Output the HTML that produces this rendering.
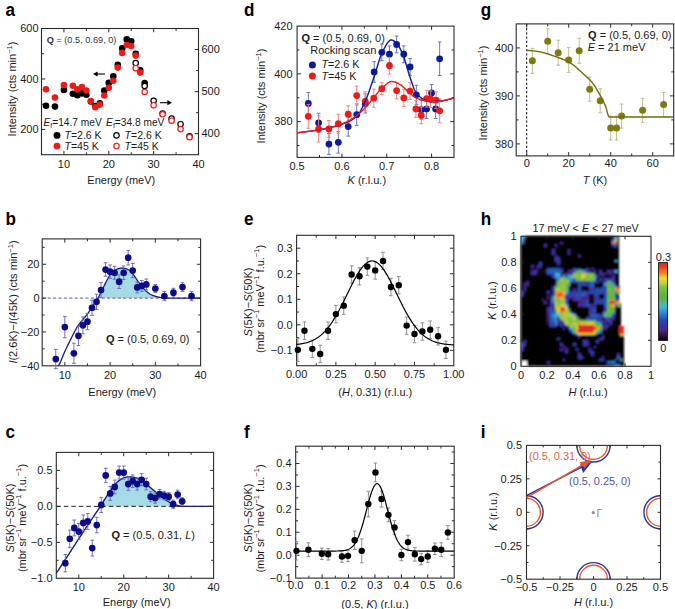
<!DOCTYPE html>
<html><head><meta charset="utf-8"><style>html,body{margin:0;padding:0;background:#fff;}svg{display:block;}text{font-family:"Liberation Sans", sans-serif;}</style></head>
<body><svg width="675" height="609" viewBox="0 0 675 609" font-family='"Liberation Sans", sans-serif'><text x="5.5" y="15.8" font-size="18" text-anchor="start" fill="#000" font-weight="bold" textLength="9.51" lengthAdjust="spacingAndGlyphs">a</text>
<rect x="41.5" y="28.5" width="157" height="126.2" fill="none" stroke="#2a2a2a" stroke-width="1.1"/>
<path d="M63.93 154.7v-3.8M63.93 28.5v3.8M108.79 154.7v-3.8M108.79 28.5v3.8M153.64 154.7v-3.8M153.64 28.5v3.8" stroke="#2a2a2a" stroke-width="1" fill="none"/>
<path d="M41.5 154.7v-2.4M41.5 28.5v2.4M86.36 154.7v-2.4M86.36 28.5v2.4M131.21 154.7v-2.4M131.21 28.5v2.4M176.07 154.7v-2.4M176.07 28.5v2.4" stroke="#2a2a2a" stroke-width="1" fill="none"/>
<path d="M41.5 129.46h3.8M41.5 78.98h3.8" stroke="#2a2a2a" stroke-width="1" fill="none"/>
<path d="M41.5 104.22h2.4M41.5 53.74h2.4" stroke="#2a2a2a" stroke-width="1" fill="none"/>
<path d="M198.5 133.67h-3.8M198.5 91.6h-3.8M198.5 49.53h-3.8" stroke="#2a2a2a" stroke-width="1" fill="none"/>
<path d="M198.5 112.63h-2.4M198.5 70.57h-2.4" stroke="#2a2a2a" stroke-width="1" fill="none"/>
<text x="63.93" y="167.5" font-size="11" text-anchor="middle" fill="#1a1a1a" >10</text>
<text x="108.79" y="167.5" font-size="11" text-anchor="middle" fill="#1a1a1a" >20</text>
<text x="153.64" y="167.5" font-size="11" text-anchor="middle" fill="#1a1a1a" >30</text>
<text x="198.5" y="167.5" font-size="11" text-anchor="middle" fill="#1a1a1a" >40</text>
<text x="38.6" y="133.26" font-size="11" text-anchor="end" fill="#1a1a1a" >200</text>
<text x="38.6" y="82.78" font-size="11" text-anchor="end" fill="#1a1a1a" >400</text>
<text x="38.6" y="32.3" font-size="11" text-anchor="end" fill="#1a1a1a" >600</text>
<text x="201.5" y="137.47" font-size="11" text-anchor="start" fill="#1a1a1a" >400</text>
<text x="201.5" y="95.4" font-size="11" text-anchor="start" fill="#1a1a1a" >500</text>
<text x="201.5" y="53.33" font-size="11" text-anchor="start" fill="#1a1a1a" >600</text>
<text x="121.3" y="184" font-size="11" text-anchor="middle" fill="#1a1a1a" >Energy (meV)</text>
<text x="16" y="89" font-size="11" text-anchor="middle" fill="#1a1a1a" transform="rotate(-90 16 89)" >Intensity (cts min<tspan dy="-4.2" font-size="7.5">−1</tspan><tspan dy="4.2">)</tspan></text>
<circle cx="45.99" cy="105.7" r="3.3" fill="#000"/>
<circle cx="54.96" cy="106.6" r="3.3" fill="#000"/>
<circle cx="63.93" cy="89.9" r="3.3" fill="#000"/>
<circle cx="72.9" cy="93.7" r="3.3" fill="#000"/>
<circle cx="77.39" cy="95.2" r="3.3" fill="#000"/>
<circle cx="81.87" cy="93.4" r="3.3" fill="#000"/>
<circle cx="86.36" cy="94.8" r="3.3" fill="#000"/>
<circle cx="90.84" cy="101.5" r="3.3" fill="#000"/>
<circle cx="95.33" cy="106" r="3.3" fill="#000"/>
<circle cx="99.81" cy="103.2" r="3.3" fill="#000"/>
<circle cx="104.3" cy="90.6" r="3.3" fill="#000"/>
<circle cx="108.79" cy="82.9" r="3.3" fill="#000"/>
<circle cx="113.27" cy="76.4" r="3.3" fill="#000"/>
<circle cx="117.76" cy="64.8" r="3.3" fill="#000"/>
<circle cx="122.24" cy="48.4" r="3.3" fill="#000"/>
<circle cx="126.73" cy="39.4" r="3.3" fill="#000"/>
<circle cx="131.21" cy="41.2" r="3.3" fill="#000"/>
<circle cx="135.7" cy="53.8" r="3.3" fill="#000"/>
<circle cx="140.19" cy="70.4" r="3.3" fill="#000"/>
<circle cx="144.67" cy="83" r="3.3" fill="#000"/>
<circle cx="45.99" cy="89.2" r="3.3" fill="#ee1a1a"/>
<circle cx="54.96" cy="97.6" r="3.3" fill="#ee1a1a"/>
<circle cx="63.93" cy="85" r="3.3" fill="#ee1a1a"/>
<circle cx="72.9" cy="85.7" r="3.3" fill="#ee1a1a"/>
<circle cx="77.39" cy="89.2" r="3.3" fill="#ee1a1a"/>
<circle cx="81.87" cy="87.1" r="3.3" fill="#ee1a1a"/>
<circle cx="86.36" cy="90.6" r="3.3" fill="#ee1a1a"/>
<circle cx="90.84" cy="101" r="3.3" fill="#ee1a1a"/>
<circle cx="95.33" cy="107.3" r="3.3" fill="#ee1a1a"/>
<circle cx="99.81" cy="104.6" r="3.3" fill="#ee1a1a"/>
<circle cx="104.3" cy="95.5" r="3.3" fill="#ee1a1a"/>
<circle cx="108.79" cy="87.8" r="3.3" fill="#ee1a1a"/>
<circle cx="113.27" cy="80.8" r="3.3" fill="#ee1a1a"/>
<circle cx="117.76" cy="67.6" r="3.3" fill="#ee1a1a"/>
<circle cx="122.24" cy="52.9" r="3.3" fill="#ee1a1a"/>
<circle cx="126.73" cy="45" r="3.3" fill="#ee1a1a"/>
<circle cx="131.21" cy="46" r="3.3" fill="#ee1a1a"/>
<circle cx="135.7" cy="55.6" r="3.3" fill="#ee1a1a"/>
<circle cx="140.19" cy="72.6" r="3.3" fill="#ee1a1a"/>
<circle cx="135.7" cy="63.1" r="2.6999999999999997" fill="#fff" stroke="#000" stroke-width="1.2"/>
<circle cx="144.67" cy="86" r="2.6999999999999997" fill="#fff" stroke="#000" stroke-width="1.2"/>
<circle cx="153.64" cy="100.8" r="2.6999999999999997" fill="#fff" stroke="#000" stroke-width="1.2"/>
<circle cx="162.61" cy="113.5" r="2.6999999999999997" fill="#fff" stroke="#000" stroke-width="1.2"/>
<circle cx="171.59" cy="118.5" r="2.6999999999999997" fill="#fff" stroke="#000" stroke-width="1.2"/>
<circle cx="180.56" cy="124.2" r="2.6999999999999997" fill="#fff" stroke="#000" stroke-width="1.2"/>
<circle cx="189.53" cy="136.2" r="2.6999999999999997" fill="#fff" stroke="#000" stroke-width="1.2"/>
<circle cx="135.7" cy="68.2" r="2.6999999999999997" fill="#fff" stroke="#ee1a1a" stroke-width="1.2"/>
<circle cx="144.67" cy="92" r="2.6999999999999997" fill="#fff" stroke="#ee1a1a" stroke-width="1.2"/>
<circle cx="153.64" cy="105.2" r="2.6999999999999997" fill="#fff" stroke="#ee1a1a" stroke-width="1.2"/>
<circle cx="162.61" cy="114.3" r="2.6999999999999997" fill="#fff" stroke="#ee1a1a" stroke-width="1.2"/>
<circle cx="171.59" cy="120.7" r="2.6999999999999997" fill="#fff" stroke="#ee1a1a" stroke-width="1.2"/>
<circle cx="180.56" cy="129.1" r="2.6999999999999997" fill="#fff" stroke="#ee1a1a" stroke-width="1.2"/>
<circle cx="189.53" cy="137.2" r="2.6999999999999997" fill="#fff" stroke="#ee1a1a" stroke-width="1.2"/>
<text x="46.7" y="43" font-size="9.2" text-anchor="start" fill="#333" ><tspan font-weight="bold">Q</tspan> = (0.5, 0.69, 0)</text>
<path d="M105 74H96" stroke="#000" stroke-width="1.1"/><path d="M93 74l4.6 -2.6v5.2z" fill="#000"/>
<path d="M160 102.7H169" stroke="#000" stroke-width="1.1"/><path d="M172 102.7l-4.6 -2.6v5.2z" fill="#000"/>
<text x="43.5" y="125.6" font-size="10.2" text-anchor="start" fill="#1a1a1a" ><tspan font-style="italic">E</tspan><tspan font-size="7" dy="2">f</tspan><tspan dy="-2">=14.7 meV</tspan></text>
<text x="106.1" y="125.6" font-size="10.2" text-anchor="start" fill="#1a1a1a" ><tspan font-style="italic">E</tspan><tspan font-size="7" dy="2">f</tspan><tspan dy="-2">=34.8 meV</tspan></text>
<circle cx="57" cy="135.4" r="3.45" fill="#000"/>
<circle cx="57" cy="146.1" r="3.45" fill="#ee1a1a"/>
<circle cx="116.5" cy="135.4" r="2.6999999999999997" fill="#fff" stroke="#000" stroke-width="1.2"/>
<circle cx="116.5" cy="146.1" r="2.6999999999999997" fill="#fff" stroke="#ee1a1a" stroke-width="1.2"/>
<text x="64.5" y="139.4" font-size="10.5" text-anchor="start" fill="#1a1a1a" ><tspan font-style="italic">T</tspan>=2.6 K</text>
<text x="64.5" y="150.2" font-size="10.5" text-anchor="start" fill="#1a1a1a" ><tspan font-style="italic">T</tspan>=45 K</text>
<text x="124.6" y="139.4" font-size="10.5" text-anchor="start" fill="#1a1a1a" ><tspan font-style="italic">T</tspan>=2.6 K</text>
<text x="124.6" y="150.2" font-size="10.5" text-anchor="start" fill="#1a1a1a" ><tspan font-style="italic">T</tspan>=45 K</text>
<text x="5.5" y="224.6" font-size="18" text-anchor="start" fill="#000" font-weight="bold" textLength="10.45" lengthAdjust="spacingAndGlyphs">b</text>
<path d="M97.87 298.12L97.87 298.12L98.34 297.55L98.81 296.69L99.29 295.81L99.76 294.91L100.23 293.99L100.71 293.03L101.18 292.05L101.66 291.06L102.13 290.06L102.6 289.06L103.08 288.08L103.55 287.11L104.02 286.13L104.5 285.15L104.97 284.16L105.45 283.19L105.92 282.24L106.39 281.32L106.87 280.45L107.34 279.59L107.81 278.72L108.29 277.85L108.76 276.99L109.23 276.16L109.71 275.38L110.18 274.65L110.66 273.99L111.13 273.41L111.6 272.92L112.08 272.47L112.55 272.04L113.02 271.62L113.5 271.23L113.97 270.86L114.45 270.51L114.92 270.19L115.39 269.9L115.87 269.63L116.34 269.4L116.81 269.2L117.29 269.03L117.76 268.88L118.24 268.74L118.71 268.6L119.18 268.48L119.66 268.37L120.13 268.28L120.6 268.22L121.08 268.18L121.55 268.17L122.02 268.19L122.5 268.22L122.97 268.27L123.45 268.33L123.92 268.4L124.39 268.48L124.87 268.56L125.34 268.65L125.81 268.75L126.29 268.88L126.76 269.03L127.24 269.2L127.71 269.4L128.18 269.62L128.66 269.86L129.13 270.13L129.6 270.41L130.08 270.75L130.55 271.18L131.02 271.67L131.5 272.22L131.97 272.8L132.45 273.41L132.92 274.03L133.39 274.65L133.87 275.26L134.34 275.9L134.81 276.58L135.29 277.28L135.76 278L136.24 278.73L136.71 279.45L137.18 280.16L137.66 280.86L138.13 281.52L138.6 282.16L139.08 282.81L139.55 283.45L140.02 284.08L140.5 284.71L140.97 285.33L141.45 285.94L141.92 286.54L142.39 287.12L142.87 287.68L143.34 288.23L143.81 288.75L144.29 289.26L144.76 289.75L145.24 290.22L145.71 290.68L146.18 291.13L146.66 291.55L147.13 291.95L147.6 292.33L148.08 292.69L148.55 293.05L149.02 293.39L149.5 293.72L149.97 294.03L150.45 294.31L150.92 294.57L151.39 294.79L151.87 295L152.34 295.2L152.81 295.4L153.29 295.58L153.76 295.76L154.24 295.93L154.71 296.09L155.18 296.25L155.66 296.39L156.13 296.53L156.6 296.66L157.08 296.78L157.55 296.9L158.03 297L158.5 297.1L158.97 297.2L159.45 297.29L159.92 297.38L160.39 297.47L160.87 297.55L161.34 297.63L161.81 297.7L162.29 297.77L162.76 297.83L163.24 297.88L163.71 297.91L164.18 297.94L164.66 297.96L165.13 297.98L165.6 297.99L166.08 298.01L166.55 298.02L167.03 298.03L167.5 298.04L167.97 298.06L168.45 298.07L168.92 298.07L168.92 298.12Z" fill="#a4dbe4"/>
<path d="M42.2 298.12H200.6" stroke="#5a5aa8" stroke-width="1" stroke-dasharray="3.2 2.2"/>
<path d="M58.27 366.12L58.74 365.41L59.22 364.58L59.69 363.66L60.16 362.65L60.64 361.58L61.11 360.46L61.59 359.3L62.06 358.11L62.54 356.91L63.01 355.72L63.49 354.54L63.96 353.39L64.43 352.29L64.91 351.25L65.38 350.23L65.86 349.23L66.33 348.24L66.81 347.26L67.28 346.28L67.76 345.32L68.23 344.36L68.7 343.41L69.18 342.46L69.65 341.52L70.13 340.56L70.6 339.6L71.08 338.63L71.55 337.66L72.03 336.7L72.5 335.73L72.97 334.77L73.45 333.83L73.92 332.89L74.4 331.97L74.87 331.07L75.35 330.19L75.82 329.34L76.3 328.51L76.77 327.71L77.24 326.95L77.72 326.21L78.19 325.51L78.67 324.84L79.14 324.19L79.62 323.56L80.09 322.95L80.57 322.35L81.04 321.77L81.51 321.2L81.99 320.64L82.46 320.09L82.94 319.54L83.41 318.99L83.89 318.44L84.36 317.88L84.84 317.32L85.31 316.75L85.78 316.17L86.26 315.57L86.73 314.96L87.21 314.32L87.68 313.67L88.16 312.99L88.63 312.27L89.11 311.52L89.58 310.76L90.05 309.98L90.53 309.2L91 308.43L91.48 307.68L91.95 306.96L92.43 306.28L92.9 305.62L93.38 304.98L93.85 304.36L94.32 303.73L94.8 303.1L95.27 302.46L95.75 301.79L96.22 301.1L96.7 300.36L97.17 299.59L97.65 298.78L98.12 297.95L98.59 297.09L99.07 296.22L99.54 295.33L100.02 294.42L100.49 293.47L100.97 292.5L101.44 291.51L101.92 290.51L102.39 289.51L102.86 288.52L103.34 287.55L103.81 286.57L104.29 285.58L104.76 284.6L105.24 283.62L105.71 282.66L106.19 281.72L106.66 280.82L107.13 279.96L107.61 279.1L108.08 278.22L108.56 277.36L109.03 276.51L109.51 275.71L109.98 274.95L110.46 274.26L110.93 273.64L111.4 273.12L111.88 272.66L112.35 272.21L112.83 271.79L113.3 271.39L113.78 271.01L114.25 270.65L114.73 270.32L115.2 270.01L115.67 269.74L116.15 269.49L116.62 269.27L117.1 269.09L117.57 268.94L118.05 268.8L118.52 268.66L119 268.53L119.47 268.41L119.94 268.32L120.42 268.24L120.89 268.19L121.37 268.17L121.84 268.18L122.32 268.21L122.79 268.25L123.27 268.3L123.74 268.37L124.21 268.45L124.69 268.53L125.16 268.62L125.64 268.71L126.11 268.83L126.59 268.97L127.06 269.13L127.54 269.33L128.01 269.54L128.48 269.77L128.96 270.03L129.43 270.3L129.91 270.62L130.38 271.02L130.86 271.49L131.33 272.02L131.81 272.59L132.28 273.2L132.75 273.82L133.23 274.44L133.7 275.05L134.18 275.68L134.65 276.34L135.13 277.04L135.6 277.76L136.08 278.48L136.55 279.21L137.02 279.93L137.5 280.63L137.97 281.3L138.45 281.95L138.92 282.59L139.4 283.24L139.87 283.88L140.35 284.51L140.82 285.13L141.29 285.75L141.77 286.35L142.24 286.94L142.72 287.51L143.19 288.06L143.67 288.59L144.14 289.1L144.62 289.6L145.09 290.08L145.56 290.55L146.04 290.99L146.51 291.42L146.99 291.83L147.46 292.22L147.94 292.59L148.41 292.95L148.89 293.29L149.36 293.63L149.83 293.94L150.31 294.23L150.78 294.5L151.26 294.73L151.73 294.94L152.21 295.15L152.68 295.34L153.16 295.53L153.63 295.71L154.1 295.88L154.58 296.05L155.05 296.2L155.53 296.35L156 296.49L156.48 296.63L156.95 296.75L157.43 296.87L157.9 296.98L158.37 297.08L158.85 297.17L159.32 297.26L159.8 297.36L160.27 297.44L160.75 297.53L161.22 297.61L161.7 297.68L162.17 297.75L162.64 297.81L163.12 297.86L163.59 297.91L164.07 297.94L164.54 297.96L165.02 297.97L165.49 297.99L165.97 298L166.44 298.02L166.91 298.03L167.39 298.04L167.86 298.05L168.34 298.06L168.81 298.07L169.29 298.08L169.76 298.09L170.24 298.1L170.71 298.1L171.18 298.11L171.66 298.11L172.13 298.12L172.61 298.12L173.08 298.12L173.56 298.12L174.03 298.12L174.51 298.12L174.98 298.12L175.45 298.12L175.93 298.12L176.4 298.12L176.88 298.12L177.35 298.12L177.83 298.12L178.3 298.12L178.78 298.12L179.25 298.12L179.72 298.12L180.2 298.12L180.67 298.12L181.15 298.12L181.62 298.12L182.1 298.12L182.57 298.12L183.05 298.12L183.52 298.12L183.99 298.12L184.47 298.12L184.94 298.12L185.42 298.12L185.89 298.12L186.37 298.12L186.84 298.12L187.32 298.12L187.79 298.12L188.26 298.12L188.74 298.12L189.21 298.12L189.69 298.12L190.16 298.12L190.64 298.12L191.11 298.12L191.59 298.12L192.06 298.12L192.53 298.12L193.01 298.12L193.48 298.12L193.96 298.12L194.43 298.12L194.91 298.12L195.38 298.12L195.86 298.12L196.33 298.12L196.8 298.12L197.28 298.12L197.75 298.12L198.23 298.12L198.7 298.12L199.18 298.12L199.65 298.12L200.13 298.12L200.6 298.12" stroke="#1b1b7a" stroke-width="1.3" fill="none"/>
<rect x="42.2" y="238.9" width="158.4" height="126.9" fill="none" stroke="#2a2a2a" stroke-width="1.1"/>
<path d="M64.83 365.8v-3.8M64.83 238.9v3.8M110.09 365.8v-3.8M110.09 238.9v3.8M155.34 365.8v-3.8M155.34 238.9v3.8" stroke="#2a2a2a" stroke-width="1" fill="none"/>
<path d="M87.46 365.8v-2.4M87.46 238.9v2.4M132.71 365.8v-2.4M132.71 238.9v2.4M177.97 365.8v-2.4M177.97 238.9v2.4" stroke="#2a2a2a" stroke-width="1" fill="none"/>
<path d="M42.2 331.96h3.8M200.6 331.96h-3.8M42.2 298.12h3.8M200.6 298.12h-3.8M42.2 264.28h3.8M200.6 264.28h-3.8" stroke="#2a2a2a" stroke-width="1" fill="none"/>
<path d="M42.2 348.88h2.4M200.6 348.88h-2.4M42.2 315.04h2.4M200.6 315.04h-2.4M42.2 281.2h2.4M200.6 281.2h-2.4M42.2 247.36h2.4M200.6 247.36h-2.4" stroke="#2a2a2a" stroke-width="1" fill="none"/>
<text x="64.83" y="378.5" font-size="11" text-anchor="middle" fill="#1a1a1a" >10</text>
<text x="110.09" y="378.5" font-size="11" text-anchor="middle" fill="#1a1a1a" >20</text>
<text x="155.34" y="378.5" font-size="11" text-anchor="middle" fill="#1a1a1a" >30</text>
<text x="200.6" y="378.5" font-size="11" text-anchor="middle" fill="#1a1a1a" >40</text>
<text x="39.5" y="369.6" font-size="11" text-anchor="end" fill="#1a1a1a" >−40</text>
<text x="39.5" y="335.76" font-size="11" text-anchor="end" fill="#1a1a1a" >−20</text>
<text x="39.5" y="301.92" font-size="11" text-anchor="end" fill="#1a1a1a" >0</text>
<text x="39.5" y="268.08" font-size="11" text-anchor="end" fill="#1a1a1a" >20</text>
<text x="122.3" y="396" font-size="11" text-anchor="middle" fill="#1a1a1a" >Energy (meV)</text>
<text x="17" y="302" font-size="11" text-anchor="middle" fill="#1a1a1a" transform="rotate(-90 17 302)" ><tspan font-style="italic">I</tspan>(2.6K)−<tspan font-style="italic">I</tspan>(45K) (cts min<tspan dy="-4.2" font-size="7.5">−1</tspan><tspan dy="4.2">)</tspan></text>
<path d="M55.78 349.39V368.68M53.93 349.39h3.7M53.93 368.68h3.7M64.83 316.39V337.71M62.98 316.39h3.7M62.98 337.71h3.7M73.88 343.13V363.43M72.03 343.13h3.7M72.03 363.43h3.7M78.41 326.21V345.5M76.56 326.21h3.7M76.56 345.5h3.7M82.93 316.9V333.82M81.08 316.9h3.7M81.08 333.82h3.7M87.46 313.52V329.76M85.61 313.52h3.7M85.61 329.76h3.7M91.98 300.15V315.38M90.13 300.15h3.7M90.13 315.38h3.7M96.51 294.23V309.46M94.66 294.23h3.7M94.66 309.46h3.7M101.03 282.38V297.61M99.18 282.38h3.7M99.18 297.61h3.7M105.56 262.76V276.29M103.71 262.76h3.7M103.71 276.29h3.7M110.09 264.96V278.49M108.24 264.96h3.7M108.24 278.49h3.7M114.61 266.31V279.17M112.76 266.31h3.7M112.76 279.17h3.7M119.14 274.94V288.48M117.29 274.94h3.7M117.29 288.48h3.7M123.66 265.97V279.51M121.81 265.97h3.7M121.81 279.51h3.7M128.19 250.41V264.96M126.34 250.41h3.7M126.34 264.96h3.7M132.71 263.43V277.65M130.86 263.43h3.7M130.86 277.65h3.7M137.24 282.05V292.87M135.39 282.05h3.7M135.39 292.87h3.7M141.77 280.52V291.35M139.92 280.52h3.7M139.92 291.35h3.7M146.29 279V289.83M144.44 279h3.7M144.44 289.83h3.7M155.34 284.41V292.54M153.49 284.41h3.7M153.49 292.54h3.7M164.39 291.52V300.66M162.54 291.52h3.7M162.54 300.66h3.7M173.45 288.31V297.1M171.6 288.31h3.7M171.6 297.1h3.7M182.5 282.72V291.52M180.65 282.72h3.7M180.65 291.52h3.7M191.55 291.52V300.66M189.7 291.52h3.7M189.7 300.66h3.7" stroke="#6a6ab4" stroke-width="0.95" fill="none"/>
<circle cx="55.78" cy="359.03" r="3.35" fill="#0c0c8a"/>
<circle cx="64.83" cy="327.05" r="3.35" fill="#0c0c8a"/>
<circle cx="73.88" cy="353.28" r="3.35" fill="#0c0c8a"/>
<circle cx="78.41" cy="335.85" r="3.35" fill="#0c0c8a"/>
<circle cx="82.93" cy="325.36" r="3.35" fill="#0c0c8a"/>
<circle cx="87.46" cy="321.64" r="3.35" fill="#0c0c8a"/>
<circle cx="91.98" cy="307.76" r="3.35" fill="#0c0c8a"/>
<circle cx="96.51" cy="301.84" r="3.35" fill="#0c0c8a"/>
<circle cx="101.03" cy="290" r="3.35" fill="#0c0c8a"/>
<circle cx="105.56" cy="269.53" r="3.35" fill="#0c0c8a"/>
<circle cx="110.09" cy="271.72" r="3.35" fill="#0c0c8a"/>
<circle cx="114.61" cy="272.74" r="3.35" fill="#0c0c8a"/>
<circle cx="119.14" cy="281.71" r="3.35" fill="#0c0c8a"/>
<circle cx="123.66" cy="272.74" r="3.35" fill="#0c0c8a"/>
<circle cx="128.19" cy="257.68" r="3.35" fill="#0c0c8a"/>
<circle cx="132.71" cy="270.54" r="3.35" fill="#0c0c8a"/>
<circle cx="137.24" cy="287.46" r="3.35" fill="#0c0c8a"/>
<circle cx="141.77" cy="285.94" r="3.35" fill="#0c0c8a"/>
<circle cx="146.29" cy="284.41" r="3.35" fill="#0c0c8a"/>
<circle cx="155.34" cy="288.48" r="3.35" fill="#0c0c8a"/>
<circle cx="164.39" cy="296.09" r="3.35" fill="#0c0c8a"/>
<circle cx="173.45" cy="292.71" r="3.35" fill="#0c0c8a"/>
<circle cx="182.5" cy="287.12" r="3.35" fill="#0c0c8a"/>
<circle cx="191.55" cy="296.09" r="3.35" fill="#0c0c8a"/>
<text x="106" y="343.2" font-size="11" text-anchor="start" fill="#1a1a1a" ><tspan font-weight="bold">Q</tspan> = (0.5, 0.69, 0)</text>
<text x="5.5" y="437.7" font-size="18" text-anchor="start" fill="#000" font-weight="bold" textLength="9.51" lengthAdjust="spacingAndGlyphs">c</text>
<path d="M100.34 506.36L100.34 506.31L100.92 505.42L101.49 504.52L102.07 503.61L102.65 502.69L103.22 501.76L103.8 500.83L104.37 499.9L104.95 498.97L105.52 498.06L106.1 497.16L106.67 496.27L107.25 495.37L107.82 494.49L108.4 493.61L108.97 492.74L109.55 491.88L110.12 491.04L110.7 490.21L111.27 489.38L111.85 488.55L112.42 487.73L113 486.94L113.58 486.17L114.15 485.45L114.73 484.77L115.3 484.13L115.88 483.51L116.45 482.91L117.03 482.33L117.6 481.78L118.18 481.27L118.75 480.8L119.33 480.38L119.9 479.98L120.48 479.6L121.05 479.24L121.63 478.9L122.2 478.59L122.78 478.31L123.35 478.07L123.93 477.87L124.51 477.67L125.08 477.48L125.66 477.3L126.23 477.14L126.81 477.01L127.38 476.91L127.96 476.87L128.53 476.86L129.11 476.88L129.68 476.91L130.26 476.96L130.83 477.01L131.41 477.07L131.98 477.14L132.56 477.2L133.13 477.28L133.71 477.37L134.28 477.47L134.86 477.59L135.44 477.72L136.01 477.87L136.59 478.03L137.16 478.2L137.74 478.39L138.31 478.58L138.89 478.79L139.46 479.03L140.04 479.31L140.61 479.62L141.19 479.96L141.76 480.32L142.34 480.7L142.91 481.09L143.49 481.51L144.06 481.98L144.64 482.49L145.21 483.03L145.79 483.58L146.37 484.12L146.94 484.65L147.52 485.15L148.09 485.65L148.67 486.14L149.24 486.64L149.82 487.13L150.39 487.62L150.97 488.11L151.54 488.6L152.12 489.08L152.69 489.56L153.27 490.04L153.84 490.52L154.42 491L154.99 491.47L155.57 491.94L156.15 492.42L156.72 492.89L157.3 493.36L157.87 493.83L158.45 494.3L159.02 494.76L159.6 495.22L160.17 495.67L160.75 496.12L161.32 496.56L161.9 496.99L162.47 497.42L163.05 497.86L163.62 498.3L164.2 498.74L164.77 499.17L165.35 499.6L165.92 500.02L166.5 500.42L167.08 500.82L167.65 501.19L168.23 501.54L168.8 501.88L169.38 502.18L169.95 502.48L170.53 502.78L171.1 503.07L171.68 503.35L172.25 503.63L172.83 503.89L173.4 504.14L173.98 504.38L174.55 504.6L175.13 504.8L175.7 504.99L176.28 505.16L176.85 505.3L177.43 505.44L178.01 505.58L178.58 505.72L179.16 505.85L179.73 505.97L180.31 506.09L180.88 506.18L181.46 506.26L182.03 506.32L182.61 506.35L183.18 506.36L183.76 506.36L184.33 506.36L184.91 506.36L185.48 506.36L186.06 506.36L186.63 506.36L186.63 506.36Z" fill="#a4dbe4"/>
<path d="M56.3 506.36H213.6" stroke="#222" stroke-width="1" stroke-dasharray="4.5 3"/>
<path d="M56.3 573.26L56.82 572.47L57.35 571.67L57.87 570.87L58.4 570.08L58.92 569.28L59.45 568.49L59.97 567.69L60.49 566.9L61.02 566.1L61.54 565.31L62.07 564.51L62.59 563.71L63.12 562.91L63.64 562.11L64.16 561.31L64.69 560.51L65.21 559.71L65.74 558.91L66.26 558.1L66.79 557.29L67.31 556.48L67.84 555.67L68.36 554.86L68.88 554.05L69.41 553.24L69.93 552.42L70.46 551.61L70.98 550.79L71.51 549.98L72.03 549.16L72.55 548.35L73.08 547.53L73.6 546.72L74.13 545.9L74.65 545.09L75.18 544.28L75.7 543.47L76.22 542.65L76.75 541.84L77.27 541.03L77.8 540.23L78.32 539.42L78.85 538.62L79.37 537.81L79.89 537.01L80.42 536.21L80.94 535.4L81.47 534.6L81.99 533.8L82.52 533L83.04 532.2L83.57 531.4L84.09 530.61L84.61 529.81L85.14 529.02L85.66 528.22L86.19 527.43L86.71 526.64L87.24 525.85L87.76 525.06L88.28 524.28L88.81 523.5L89.33 522.72L89.86 521.94L90.38 521.17L90.91 520.39L91.43 519.62L91.95 518.85L92.48 518.08L93 517.31L93.53 516.54L94.05 515.76L94.58 514.99L95.1 514.21L95.62 513.43L96.15 512.65L96.67 511.87L97.2 511.08L97.72 510.29L98.25 509.5L98.77 508.71L99.3 507.91L99.82 507.11L100.34 506.31L100.87 505.5L101.39 504.68L101.92 503.86L102.44 503.02L102.97 502.17L103.49 501.32L104.01 500.47L104.54 499.63L105.06 498.79L105.59 497.96L106.11 497.14L106.64 496.32L107.16 495.51L107.68 494.7L108.21 493.89L108.73 493.1L109.26 492.31L109.78 491.54L110.31 490.78L110.83 490.02L111.35 489.26L111.88 488.51L112.4 487.76L112.93 487.04L113.45 486.33L113.98 485.66L114.5 485.03L115.03 484.44L115.55 483.86L116.07 483.3L116.6 482.76L117.12 482.23L117.65 481.74L118.17 481.28L118.7 480.85L119.22 480.46L119.74 480.09L120.27 479.74L120.79 479.4L121.32 479.08L121.84 478.78L122.37 478.51L122.89 478.26L123.41 478.05L123.94 477.86L124.46 477.68L124.99 477.51L125.51 477.34L126.04 477.19L126.56 477.06L127.09 476.96L127.61 476.89L128.13 476.86L128.66 476.87L129.18 476.88L129.71 476.91L130.23 476.95L130.76 477L131.28 477.06L131.8 477.11L132.33 477.18L132.85 477.24L133.38 477.31L133.9 477.4L134.43 477.5L134.95 477.61L135.47 477.73L136 477.87L136.52 478.01L137.05 478.17L137.57 478.33L138.1 478.51L138.62 478.69L139.14 478.89L139.67 479.13L140.19 479.39L140.72 479.68L141.24 479.99L141.77 480.32L142.29 480.67L142.81 481.02L143.34 481.39L143.86 481.81L144.39 482.26L144.91 482.74L145.44 483.24L145.96 483.74L146.49 484.23L147.01 484.71L147.53 485.16L148.06 485.62L148.58 486.07L149.11 486.52L149.63 486.97L150.16 487.42L150.68 487.87L151.2 488.31L151.73 488.75L152.25 489.19L152.78 489.63L153.3 490.07L153.83 490.51L154.35 490.94L154.87 491.37L155.4 491.8L155.92 492.24L156.45 492.67L156.97 493.1L157.5 493.53L158.02 493.95L158.55 494.38L159.07 494.8L159.59 495.21L160.12 495.63L160.64 496.04L161.17 496.44L161.69 496.84L162.22 497.23L162.74 497.63L163.26 498.03L163.79 498.43L164.31 498.82L164.84 499.22L165.36 499.61L165.89 499.99L166.41 500.36L166.93 500.72L167.46 501.07L167.98 501.4L168.51 501.71L169.03 502L169.56 502.28L170.08 502.55L170.6 502.82L171.13 503.08L171.65 503.34L172.18 503.59L172.7 503.83L173.23 504.07L173.75 504.29L174.28 504.49L174.8 504.69L175.32 504.87L175.85 505.03L176.37 505.18L176.9 505.31L177.42 505.44L177.95 505.57L178.47 505.7L178.99 505.82L179.52 505.93L180.04 506.04L180.57 506.13L181.09 506.21L181.62 506.28L182.14 506.32L182.66 506.35L183.19 506.36L183.71 506.36L184.24 506.36L184.76 506.36L185.29 506.36L185.81 506.36L186.33 506.36L186.86 506.36L187.38 506.36L187.91 506.36L188.43 506.36L188.96 506.36L189.48 506.36L190 506.36L190.53 506.36L191.05 506.36L191.58 506.36L192.1 506.36L192.63 506.36L193.15 506.36L193.68 506.36L194.2 506.36L194.72 506.36L195.25 506.36L195.77 506.36L196.3 506.36L196.82 506.36L197.35 506.36L197.87 506.36L198.39 506.36L198.92 506.36L199.44 506.36L199.97 506.36L200.49 506.36L201.02 506.36L201.54 506.36L202.06 506.36L202.59 506.36L203.11 506.36L203.64 506.36L204.16 506.36L204.69 506.36L205.21 506.36L205.74 506.36L206.26 506.36L206.78 506.36L207.31 506.36L207.83 506.36L208.36 506.36L208.88 506.36L209.41 506.36L209.93 506.36L210.45 506.36L210.98 506.36L211.5 506.36L212.03 506.36L212.55 506.36L213.08 506.36L213.6 506.36" stroke="#1b1b7a" stroke-width="1.4" fill="none"/>
<rect x="56.3" y="452.4" width="157.3" height="125.9" fill="none" stroke="#2a2a2a" stroke-width="1.1"/>
<path d="M78.77 578.3v-3.8M78.77 452.4v3.8M123.71 578.3v-3.8M123.71 452.4v3.8M168.66 578.3v-3.8M168.66 452.4v3.8" stroke="#2a2a2a" stroke-width="1" fill="none"/>
<path d="M101.24 578.3v-2.4M101.24 452.4v2.4M146.19 578.3v-2.4M146.19 452.4v2.4M191.13 578.3v-2.4M191.13 452.4v2.4" stroke="#2a2a2a" stroke-width="1" fill="none"/>
<path d="M56.3 542.33h3.8M213.6 542.33h-3.8M56.3 506.36h3.8M213.6 506.36h-3.8M56.3 470.39h3.8M213.6 470.39h-3.8" stroke="#2a2a2a" stroke-width="1" fill="none"/>
<path d="M56.3 560.31h2.4M213.6 560.31h-2.4M56.3 524.34h2.4M213.6 524.34h-2.4M56.3 488.37h2.4M213.6 488.37h-2.4" stroke="#2a2a2a" stroke-width="1" fill="none"/>
<text x="78.77" y="590.5" font-size="11" text-anchor="middle" fill="#1a1a1a" >10</text>
<text x="123.71" y="590.5" font-size="11" text-anchor="middle" fill="#1a1a1a" >20</text>
<text x="168.66" y="590.5" font-size="11" text-anchor="middle" fill="#1a1a1a" >30</text>
<text x="213.6" y="590.5" font-size="11" text-anchor="middle" fill="#1a1a1a" >40</text>
<text x="52.5" y="582.1" font-size="11" text-anchor="end" fill="#1a1a1a" >−1.0</text>
<text x="52.5" y="546.13" font-size="11" text-anchor="end" fill="#1a1a1a" >−0.5</text>
<text x="52.5" y="510.16" font-size="11" text-anchor="end" fill="#1a1a1a" >0.0</text>
<text x="52.5" y="474.19" font-size="11" text-anchor="end" fill="#1a1a1a" >0.5</text>
<text x="136.7" y="606" font-size="11" text-anchor="middle" fill="#1a1a1a" >Energy (meV)</text>
<text x="14" y="518" font-size="11" text-anchor="middle" fill="#1a1a1a" transform="rotate(-90 14 518)" ><tspan font-style="italic">S</tspan>(5K)−<tspan font-style="italic">S</tspan>(50K)</text>
<text x="25.5" y="518" font-size="11" text-anchor="middle" fill="#1a1a1a" transform="rotate(-90 25.5 518)" >(mbr sr<tspan dy="-4.2" font-size="7.5">−1</tspan><tspan dy="4.2"> meV</tspan><tspan dy="-4.2" font-size="7.5">−1</tspan><tspan dy="4.2"> f.u.</tspan><tspan dy="-4.2" font-size="7.5">−1</tspan><tspan dy="4.2">)</tspan></text>
<path d="M65.29 554.56V571.83M63.44 554.56h3.7M63.44 571.83h3.7M69.78 530.1V547.36M67.93 530.1h3.7M67.93 547.36h3.7M74.28 520.03V535.85M72.43 520.03h3.7M72.43 535.85h3.7M78.77 523.62V539.45M76.92 523.62h3.7M76.92 539.45h3.7M83.27 514.99V530.82M81.42 514.99h3.7M81.42 530.82h3.7M87.76 513.55V529.38M85.91 513.55h3.7M85.91 529.38h3.7M92.25 540.17V556M90.4 540.17h3.7M90.4 556h3.7M96.75 517.36V532.76M94.9 517.36h3.7M94.9 532.76h3.7M101.24 497.36V512.47M99.39 497.36h3.7M99.39 512.47h3.7M105.74 468.23V482.62M103.89 468.23h3.7M103.89 482.62h3.7M110.23 486.43V500.39M108.38 486.43h3.7M108.38 500.39h3.7M114.73 480.1V493.77M112.88 480.1h3.7M112.88 493.77h3.7M119.22 466.07V479.02M117.37 466.07h3.7M117.37 479.02h3.7M123.71 466.07V479.02M121.86 466.07h3.7M121.86 479.02h3.7M128.21 477.72V490.39M126.36 477.72h3.7M126.36 490.39h3.7M132.7 474.92V487.44M130.85 474.92h3.7M130.85 487.44h3.7M137.2 477.94V490.17M135.35 477.94h3.7M135.35 490.17h3.7M141.69 473.62V485.85M139.84 473.62h3.7M139.84 485.85h3.7M146.19 478.3V489.81M144.34 478.3h3.7M144.34 489.81h3.7M150.68 491.61V501.68M148.83 491.61h3.7M148.83 501.68h3.7M155.17 493.05V503.12M153.32 493.05h3.7M153.32 503.12h3.7M159.67 489.45V498.8M157.82 489.45h3.7M157.82 498.8h3.7M164.16 491.25V499.88M162.31 491.25h3.7M162.31 499.88h3.7M168.66 492.62V500.67M166.81 492.62h3.7M166.81 500.67h3.7M173.15 500.1V508.3M171.3 500.1h3.7M171.3 508.3h3.7M177.65 490.17V498.8M175.8 490.17h3.7M175.8 498.8h3.7M182.14 497.72V504.92M180.29 497.72h3.7M180.29 504.92h3.7" stroke="#6a6ab4" stroke-width="0.95" fill="none"/>
<circle cx="65.29" cy="563.19" r="3.35" fill="#0c0c8a"/>
<circle cx="69.78" cy="538.73" r="3.35" fill="#0c0c8a"/>
<circle cx="74.28" cy="527.94" r="3.35" fill="#0c0c8a"/>
<circle cx="78.77" cy="531.54" r="3.35" fill="#0c0c8a"/>
<circle cx="83.27" cy="522.9" r="3.35" fill="#0c0c8a"/>
<circle cx="87.76" cy="521.47" r="3.35" fill="#0c0c8a"/>
<circle cx="92.25" cy="548.08" r="3.35" fill="#0c0c8a"/>
<circle cx="96.75" cy="525.06" r="3.35" fill="#0c0c8a"/>
<circle cx="101.24" cy="504.92" r="3.35" fill="#0c0c8a"/>
<circle cx="105.74" cy="475.42" r="3.35" fill="#0c0c8a"/>
<circle cx="110.23" cy="493.41" r="3.35" fill="#0c0c8a"/>
<circle cx="114.73" cy="486.93" r="3.35" fill="#0c0c8a"/>
<circle cx="119.22" cy="472.54" r="3.35" fill="#0c0c8a"/>
<circle cx="123.71" cy="472.54" r="3.35" fill="#0c0c8a"/>
<circle cx="128.21" cy="484.05" r="3.35" fill="#0c0c8a"/>
<circle cx="132.7" cy="481.18" r="3.35" fill="#0c0c8a"/>
<circle cx="137.2" cy="484.05" r="3.35" fill="#0c0c8a"/>
<circle cx="141.69" cy="479.74" r="3.35" fill="#0c0c8a"/>
<circle cx="146.19" cy="484.05" r="3.35" fill="#0c0c8a"/>
<circle cx="150.68" cy="496.64" r="3.35" fill="#0c0c8a"/>
<circle cx="155.17" cy="498.08" r="3.35" fill="#0c0c8a"/>
<circle cx="159.67" cy="494.13" r="3.35" fill="#0c0c8a"/>
<circle cx="164.16" cy="495.57" r="3.35" fill="#0c0c8a"/>
<circle cx="168.66" cy="496.64" r="3.35" fill="#0c0c8a"/>
<circle cx="173.15" cy="504.2" r="3.35" fill="#0c0c8a"/>
<circle cx="177.65" cy="494.49" r="3.35" fill="#0c0c8a"/>
<circle cx="182.14" cy="501.32" r="3.35" fill="#0c0c8a"/>
<text x="111.5" y="538.9" font-size="11" text-anchor="start" fill="#1a1a1a" ><tspan font-weight="bold">Q</tspan> = (0.5, 0.31, <tspan font-style="italic">L</tspan>)</text>
<text x="244" y="15.8" font-size="18" text-anchor="start" fill="#000" font-weight="bold" textLength="10.45" lengthAdjust="spacingAndGlyphs">d</text>
<rect x="297.1" y="26.1" width="156.9" height="131.3" fill="none" stroke="#2a2a2a" stroke-width="1.1"/>
<path d="M341.93 157.4v-3.8M341.93 26.1v3.8M386.76 157.4v-3.8M386.76 26.1v3.8M431.59 157.4v-3.8M431.59 26.1v3.8" stroke="#2a2a2a" stroke-width="1" fill="none"/>
<path d="M319.51 157.4v-2.4M319.51 26.1v2.4M364.34 157.4v-2.4M364.34 26.1v2.4M409.17 157.4v-2.4M409.17 26.1v2.4" stroke="#2a2a2a" stroke-width="1" fill="none"/>
<path d="M297.1 121.59h3.8M454 121.59h-3.8M297.1 73.85h3.8M454 73.85h-3.8" stroke="#2a2a2a" stroke-width="1" fill="none"/>
<path d="M297.1 145.46h2.4M454 145.46h-2.4M297.1 97.72h2.4M454 97.72h-2.4M297.1 49.97h2.4M454 49.97h-2.4" stroke="#2a2a2a" stroke-width="1" fill="none"/>
<text x="297.1" y="169.8" font-size="11" text-anchor="middle" fill="#1a1a1a" >0.5</text>
<text x="341.93" y="169.8" font-size="11" text-anchor="middle" fill="#1a1a1a" >0.6</text>
<text x="386.76" y="169.8" font-size="11" text-anchor="middle" fill="#1a1a1a" >0.7</text>
<text x="431.59" y="169.8" font-size="11" text-anchor="middle" fill="#1a1a1a" >0.8</text>
<text x="292.5" y="125.39" font-size="11" text-anchor="end" fill="#1a1a1a" >380</text>
<text x="292.5" y="77.65" font-size="11" text-anchor="end" fill="#1a1a1a" >400</text>
<text x="292.5" y="29.9" font-size="11" text-anchor="end" fill="#1a1a1a" >420</text>
<text x="366.8" y="183.5" font-size="11" text-anchor="middle" fill="#1a1a1a" ><tspan font-style="italic">K</tspan> (r.l.u.)</text>
<text x="265" y="96" font-size="11" text-anchor="middle" fill="#1a1a1a" transform="rotate(-90 265 96)" >Intensity (cts min<tspan dy="-4.2" font-size="7.5">−1</tspan><tspan dy="4.2">)</tspan></text>
<path d="M308.31 92.47V114.43M306.46 92.47h3.7M306.46 114.43h3.7M318.62 113.24V132.33M316.77 113.24h3.7M316.77 132.33h3.7M328.93 133.53V154.54M327.08 133.53h3.7M327.08 154.54h3.7M338.34 131.62V153.1M336.49 131.62h3.7M336.49 153.1h3.7M348.2 117.06V136.15M346.35 117.06h3.7M346.35 136.15h3.7M356.72 103.93V125.41M354.87 103.93h3.7M354.87 125.41h3.7M365.24 93.9V113M363.39 93.9h3.7M363.39 113h3.7M374.21 61.67V82.2M372.36 61.67h3.7M372.36 82.2h3.7M381.83 44V60.72M379.98 44h3.7M379.98 60.72h3.7M389.45 45.91V62.63M387.6 45.91h3.7M387.6 62.63h3.7M396.62 36.13V52.84M394.77 36.13h3.7M394.77 52.84h3.7M403.79 45.91V62.63M401.94 45.91h3.7M401.94 62.63h3.7M410.07 58.57V75.28M408.22 58.57h3.7M408.22 75.28h3.7M416.34 85.3V104.4M414.49 85.3h3.7M414.49 104.4h3.7M421.28 100.11V119.2M419.43 100.11h3.7M419.43 119.2h3.7M426.65 99.39V118.49M424.8 99.39h3.7M424.8 118.49h3.7M431.59 84.59V101.3M429.74 84.59h3.7M429.74 101.3h3.7M435.62 99.39V118.49M433.77 99.39h3.7M433.77 118.49h3.7M439.65 42.09V75.52M437.8 42.09h3.7M437.8 75.52h3.7" stroke="#6070b8" stroke-width="0.95" fill="none"/>
<circle cx="308.31" cy="103.45" r="3.4" fill="#0d1a96"/>
<circle cx="318.62" cy="122.78" r="3.4" fill="#0d1a96"/>
<circle cx="328.93" cy="144.03" r="3.4" fill="#0d1a96"/>
<circle cx="338.34" cy="142.36" r="3.4" fill="#0d1a96"/>
<circle cx="348.2" cy="126.6" r="3.4" fill="#0d1a96"/>
<circle cx="356.72" cy="114.67" r="3.4" fill="#0d1a96"/>
<circle cx="365.24" cy="103.45" r="3.4" fill="#0d1a96"/>
<circle cx="374.21" cy="71.94" r="3.4" fill="#0d1a96"/>
<circle cx="381.83" cy="52.36" r="3.4" fill="#0d1a96"/>
<circle cx="389.45" cy="54.27" r="3.4" fill="#0d1a96"/>
<circle cx="396.62" cy="44.48" r="3.4" fill="#0d1a96"/>
<circle cx="403.79" cy="54.27" r="3.4" fill="#0d1a96"/>
<circle cx="410.07" cy="66.92" r="3.4" fill="#0d1a96"/>
<circle cx="416.34" cy="94.85" r="3.4" fill="#0d1a96"/>
<circle cx="421.28" cy="109.65" r="3.4" fill="#0d1a96"/>
<circle cx="426.65" cy="108.94" r="3.4" fill="#0d1a96"/>
<circle cx="431.59" cy="92.94" r="3.4" fill="#0d1a96"/>
<circle cx="435.62" cy="108.94" r="3.4" fill="#0d1a96"/>
<circle cx="439.65" cy="58.81" r="3.4" fill="#0d1a96"/>
<path d="M308.31 104.4V128.28M306.46 104.4h3.7M306.46 128.28h3.7M318.62 115.86V142.12M316.77 115.86h3.7M316.77 142.12h3.7M328.93 120.64V137.35M327.08 120.64h3.7M327.08 137.35h3.7M338.34 114.19V133.29M336.49 114.19h3.7M336.49 133.29h3.7M348.2 105.83V122.55M346.35 105.83h3.7M346.35 122.55h3.7M356.72 86.02V105.12M354.87 86.02h3.7M354.87 105.12h3.7M365.24 91.75V110.85M363.39 91.75h3.7M363.39 110.85h3.7M373.76 89.12V107.27M371.91 89.12h3.7M371.91 107.27h3.7M381.83 82.68V94.61M379.98 82.68h3.7M379.98 94.61h3.7M389.45 57.37V74.08M387.6 57.37h3.7M387.6 74.08h3.7M396.62 82.2V98.91M394.77 82.2h3.7M394.77 98.91h3.7M403.79 89.6V106.31M401.94 89.6h3.7M401.94 106.31h3.7M410.07 82.68V99.39M408.22 82.68h3.7M408.22 99.39h3.7M415.9 100.58V117.29M414.05 100.58h3.7M414.05 117.29h3.7M421.28 107.03V123.74M419.43 107.03h3.7M419.43 123.74h3.7M426.65 90.32V107.03M424.8 90.32h3.7M424.8 107.03h3.7M430.69 90.8V107.51M428.84 90.8h3.7M428.84 107.51h3.7M436.07 91.75V108.46M434.22 91.75h3.7M434.22 108.46h3.7M439.65 98.91V122.78M437.8 98.91h3.7M437.8 122.78h3.7" stroke="#f08080" stroke-width="0.95" fill="none"/>
<circle cx="308.31" cy="116.34" r="3.4" fill="#ee1a1a"/>
<circle cx="318.62" cy="128.99" r="3.4" fill="#ee1a1a"/>
<circle cx="328.93" cy="128.99" r="3.4" fill="#ee1a1a"/>
<circle cx="338.34" cy="123.74" r="3.4" fill="#ee1a1a"/>
<circle cx="348.2" cy="114.19" r="3.4" fill="#ee1a1a"/>
<circle cx="356.72" cy="95.57" r="3.4" fill="#ee1a1a"/>
<circle cx="365.24" cy="101.3" r="3.4" fill="#ee1a1a"/>
<circle cx="373.76" cy="98.2" r="3.4" fill="#ee1a1a"/>
<circle cx="381.83" cy="88.65" r="3.4" fill="#ee1a1a"/>
<circle cx="389.45" cy="65.73" r="3.4" fill="#ee1a1a"/>
<circle cx="396.62" cy="90.56" r="3.4" fill="#ee1a1a"/>
<circle cx="403.79" cy="97.96" r="3.4" fill="#ee1a1a"/>
<circle cx="410.07" cy="91.03" r="3.4" fill="#ee1a1a"/>
<circle cx="415.9" cy="108.94" r="3.4" fill="#ee1a1a"/>
<circle cx="421.28" cy="115.38" r="3.4" fill="#ee1a1a"/>
<circle cx="426.65" cy="98.67" r="3.4" fill="#ee1a1a"/>
<circle cx="430.69" cy="99.15" r="3.4" fill="#ee1a1a"/>
<circle cx="436.07" cy="100.11" r="3.4" fill="#ee1a1a"/>
<circle cx="439.65" cy="110.85" r="3.4" fill="#ee1a1a"/>
<path d="M297.1 132.81L297.62 132.74L298.15 132.67L298.67 132.6L299.19 132.53L299.72 132.46L300.24 132.39L300.76 132.32L301.28 132.26L301.81 132.19L302.33 132.12L302.85 132.06L303.38 131.99L303.9 131.92L304.42 131.86L304.94 131.79L305.47 131.73L305.99 131.66L306.51 131.6L307.04 131.53L307.56 131.46L308.08 131.4L308.61 131.33L309.13 131.26L309.65 131.19L310.18 131.12L310.7 131.05L311.22 130.98L311.74 130.91L312.27 130.84L312.79 130.77L313.31 130.69L313.84 130.62L314.36 130.54L314.88 130.46L315.4 130.38L315.93 130.3L316.45 130.22L316.97 130.14L317.5 130.05L318.02 129.96L318.54 129.88L319.07 129.79L319.59 129.69L320.11 129.6L320.63 129.51L321.16 129.41L321.68 129.32L322.2 129.22L322.73 129.12L323.25 129.02L323.77 128.92L324.3 128.82L324.82 128.71L325.34 128.61L325.87 128.5L326.39 128.39L326.91 128.28L327.43 128.17L327.96 128.06L328.48 127.94L329 127.83L329.53 127.71L330.05 127.59L330.57 127.47L331.1 127.34L331.62 127.22L332.14 127.09L332.66 126.96L333.19 126.82L333.71 126.69L334.23 126.55L334.76 126.41L335.28 126.27L335.8 126.12L336.33 125.97L336.85 125.82L337.37 125.67L337.89 125.52L338.42 125.36L338.94 125.2L339.46 125.03L339.99 124.86L340.51 124.69L341.03 124.52L341.56 124.34L342.08 124.17L342.6 123.98L343.12 123.8L343.65 123.61L344.17 123.42L344.69 123.23L345.22 123.03L345.74 122.82L346.26 122.61L346.79 122.4L347.31 122.17L347.83 121.94L348.35 121.7L348.88 121.45L349.4 121.2L349.92 120.93L350.45 120.65L350.97 120.37L351.49 120.07L352.02 119.76L352.54 119.43L353.06 119.1L353.58 118.75L354.11 118.39L354.63 118.01L355.15 117.61L355.68 117.21L356.2 116.78L356.72 116.34L357.25 115.84L357.77 115.26L358.29 114.6L358.81 113.86L359.34 113.06L359.86 112.19L360.38 111.27L360.91 110.3L361.43 109.28L361.95 108.22L362.48 107.14L363 106.02L363.52 104.89L364.04 103.74L364.57 102.58L365.09 101.42L365.61 100.27L366.14 99.1L366.66 97.86L367.18 96.57L367.71 95.22L368.23 93.83L368.75 92.4L369.27 90.93L369.8 89.43L370.32 87.91L370.84 86.36L371.37 84.8L371.89 83.24L372.41 81.67L372.94 80.1L373.46 78.54L373.98 77L374.5 75.47L375.03 73.94L375.55 72.33L376.07 70.67L376.6 68.96L377.12 67.23L377.64 65.48L378.17 63.75L378.69 62.04L379.21 60.37L379.73 58.77L380.26 57.23L380.78 55.8L381.3 54.47L381.83 53.27L382.35 52.22L382.87 51.21L383.39 50.19L383.92 49.17L384.44 48.16L384.96 47.16L385.49 46.2L386.01 45.26L386.53 44.38L387.06 43.55L387.58 42.78L388.1 42.08L388.62 41.47L389.15 40.94L389.67 40.52L390.19 40.21L390.72 40.01L391.24 39.95L391.76 39.99L392.29 40.13L392.81 40.34L393.33 40.61L393.86 40.95L394.38 41.33L394.9 41.75L395.42 42.2L395.95 42.67L396.47 43.15L396.99 43.66L397.52 44.27L398.04 44.98L398.56 45.79L399.09 46.68L399.61 47.64L400.13 48.68L400.65 49.77L401.18 50.91L401.7 52.1L402.22 53.33L402.75 54.58L403.27 55.85L403.79 57.13L404.31 58.52L404.84 60.07L405.36 61.75L405.88 63.53L406.41 65.36L406.93 67.21L407.45 69.03L407.98 70.79L408.5 72.46L409.02 74.02L409.55 75.6L410.07 77.22L410.59 78.84L411.11 80.47L411.64 82.07L412.16 83.63L412.68 85.14L413.21 86.57L413.73 87.92L414.25 89.17L414.77 90.3L415.3 91.28L415.82 92.12L416.34 92.84L416.87 93.53L417.39 94.18L417.91 94.8L418.44 95.38L418.96 95.94L419.48 96.46L420 96.95L420.53 97.4L421.05 97.83L421.57 98.22L422.1 98.58L422.62 98.9L423.14 99.2L423.67 99.46L424.19 99.72L424.71 99.97L425.24 100.22L425.76 100.46L426.28 100.69L426.8 100.91L427.33 101.1L427.85 101.28L428.37 101.44L428.9 101.57L429.42 101.67L429.94 101.74L430.47 101.77L430.99 101.78L431.51 101.77L432.03 101.76L432.56 101.74L433.08 101.72L433.6 101.69L434.13 101.66L434.65 101.62L435.17 101.58L435.69 101.54L436.22 101.5L436.74 101.45L437.26 101.4L437.79 101.35L438.31 101.3L438.83 101.24L439.36 101.19L439.88 101.13L440.4 101.08L440.92 101.02L441.45 100.95L441.97 100.88L442.49 100.8L443.02 100.71L443.54 100.62L444.06 100.52L444.59 100.41L445.11 100.3L445.63 100.19L446.15 100.07L446.68 99.95L447.2 99.83L447.72 99.7L448.25 99.57L448.77 99.44L449.29 99.31L449.82 99.18L450.34 99.05L450.86 98.92L451.39 98.8L451.91 98.67L452.43 98.55L452.95 98.43L453.48 98.31L454 98.2" stroke="#0d1a96" stroke-width="1.4" fill="none"/>
<path d="M297.1 132.81L297.62 132.74L298.15 132.68L298.67 132.61L299.19 132.55L299.72 132.48L300.24 132.42L300.76 132.36L301.28 132.29L301.81 132.23L302.33 132.17L302.85 132.11L303.38 132.04L303.9 131.98L304.42 131.92L304.94 131.86L305.47 131.8L305.99 131.74L306.51 131.67L307.04 131.61L307.56 131.55L308.08 131.48L308.61 131.42L309.13 131.35L309.65 131.29L310.18 131.22L310.7 131.15L311.22 131.08L311.74 131.01L312.27 130.94L312.79 130.87L313.31 130.8L313.84 130.72L314.36 130.64L314.88 130.57L315.4 130.49L315.93 130.4L316.45 130.32L316.97 130.23L317.5 130.15L318.02 130.06L318.54 129.97L319.07 129.88L319.59 129.78L320.11 129.69L320.63 129.59L321.16 129.5L321.68 129.4L322.2 129.3L322.73 129.19L323.25 129.09L323.77 128.99L324.3 128.88L324.82 128.77L325.34 128.66L325.87 128.55L326.39 128.43L326.91 128.32L327.43 128.2L327.96 128.08L328.48 127.95L329 127.83L329.53 127.7L330.05 127.58L330.57 127.45L331.1 127.31L331.62 127.18L332.14 127.04L332.66 126.9L333.19 126.76L333.71 126.61L334.23 126.47L334.76 126.32L335.28 126.17L335.8 126.01L336.33 125.86L336.85 125.7L337.37 125.53L337.89 125.37L338.42 125.2L338.94 125.03L339.46 124.86L339.99 124.68L340.51 124.49L341.03 124.3L341.56 124.1L342.08 123.89L342.6 123.68L343.12 123.46L343.65 123.23L344.17 123L344.69 122.76L345.22 122.51L345.74 122.26L346.26 122L346.79 121.74L347.31 121.47L347.83 121.19L348.35 120.91L348.88 120.63L349.4 120.33L349.92 120.04L350.45 119.74L350.97 119.43L351.49 119.12L352.02 118.8L352.54 118.48L353.06 118.15L353.58 117.82L354.11 117.48L354.63 117.14L355.15 116.78L355.68 116.4L356.2 116.01L356.72 115.61L357.25 115.2L357.77 114.77L358.29 114.33L358.81 113.89L359.34 113.43L359.86 112.96L360.38 112.48L360.91 112L361.43 111.51L361.95 111.01L362.48 110.5L363 109.99L363.52 109.47L364.04 108.94L364.57 108.41L365.09 107.88L365.61 107.34L366.14 106.8L366.66 106.22L367.18 105.62L367.71 105.01L368.23 104.38L368.75 103.73L369.27 103.08L369.8 102.41L370.32 101.75L370.84 101.08L371.37 100.41L371.89 99.75L372.41 99.1L372.94 98.46L373.46 97.83L373.98 97.22L374.5 96.6L375.03 95.97L375.55 95.34L376.07 94.7L376.6 94.06L377.12 93.43L377.64 92.8L378.17 92.17L378.69 91.55L379.21 90.95L379.73 90.35L380.26 89.78L380.78 89.22L381.3 88.68L381.83 88.17L382.35 87.68L382.87 87.22L383.39 86.79L383.92 86.35L384.44 85.9L384.96 85.44L385.49 84.98L386.01 84.53L386.53 84.08L387.06 83.66L387.58 83.25L388.1 82.87L388.62 82.53L389.15 82.23L389.67 81.97L390.19 81.76L390.72 81.6L391.24 81.51L391.76 81.49L392.29 81.51L392.81 81.57L393.33 81.65L393.86 81.77L394.38 81.92L394.9 82.09L395.42 82.28L395.95 82.48L396.47 82.71L396.99 82.95L397.52 83.2L398.04 83.46L398.56 83.73L399.09 84L399.61 84.28L400.13 84.55L400.65 84.84L401.18 85.18L401.7 85.56L402.22 85.98L402.75 86.43L403.27 86.91L403.79 87.41L404.31 87.93L404.84 88.46L405.36 89L405.88 89.53L406.41 90.07L406.93 90.59L407.45 91.09L407.98 91.58L408.5 92.04L409.02 92.48L409.55 92.92L410.07 93.37L410.59 93.82L411.11 94.27L411.64 94.72L412.16 95.16L412.68 95.59L413.21 96L413.73 96.39L414.25 96.76L414.77 97.1L415.3 97.41L415.82 97.68L416.34 97.93L416.87 98.17L417.39 98.4L417.91 98.62L418.44 98.83L418.96 99.03L419.48 99.23L420 99.41L420.53 99.58L421.05 99.74L421.57 99.89L422.1 100.03L422.62 100.16L423.14 100.27L423.67 100.37L424.19 100.47L424.71 100.57L425.24 100.66L425.76 100.76L426.28 100.85L426.8 100.94L427.33 101.03L427.85 101.11L428.37 101.19L428.9 101.27L429.42 101.34L429.94 101.41L430.47 101.48L430.99 101.54L431.51 101.59L432.03 101.64L432.56 101.68L433.08 101.71L433.6 101.74L434.13 101.76L434.65 101.77L435.17 101.78L435.69 101.77L436.22 101.75L436.74 101.73L437.26 101.69L437.79 101.64L438.31 101.58L438.83 101.52L439.36 101.44L439.88 101.36L440.4 101.27L440.92 101.17L441.45 101.07L441.97 100.96L442.49 100.85L443.02 100.73L443.54 100.6L444.06 100.48L444.59 100.34L445.11 100.21L445.63 100.07L446.15 99.94L446.68 99.8L447.2 99.65L447.72 99.51L448.25 99.37L448.77 99.23L449.29 99.09L449.82 98.95L450.34 98.82L450.86 98.68L451.39 98.55L451.91 98.42L452.43 98.3L452.95 98.18L453.48 98.07L454 97.96" stroke="#ee1a1a" stroke-width="1.4" fill="none"/>
<text x="301.4" y="41.6" font-size="11" text-anchor="start" fill="#1a1a1a" ><tspan font-weight="bold">Q</tspan> = (0.5, 0.69, 0)</text>
<text x="310.3" y="54.2" font-size="11" text-anchor="start" fill="#1a1a1a" >Rocking scan</text>
<circle cx="312.4" cy="65" r="3.5" fill="#0d1a96"/>
<circle cx="312.4" cy="75.9" r="3.5" fill="#ee1a1a"/>
<text x="321.4" y="68.2" font-size="10.8" text-anchor="start" fill="#1a1a1a" ><tspan font-style="italic">T</tspan>=2.6 K</text>
<text x="321.4" y="79.7" font-size="10.8" text-anchor="start" fill="#1a1a1a" ><tspan font-style="italic">T</tspan>=45 K</text>
<text x="244" y="225.3" font-size="18" text-anchor="start" fill="#000" font-weight="bold" textLength="9.51" lengthAdjust="spacingAndGlyphs">e</text>
<rect x="296.6" y="235.3" width="157.2" height="130.4" fill="none" stroke="#2a2a2a" stroke-width="1.1"/>
<path d="M335.9 365.7v-3.8M335.9 235.3v3.8M375.2 365.7v-3.8M375.2 235.3v3.8M414.5 365.7v-3.8M414.5 235.3v3.8" stroke="#2a2a2a" stroke-width="1" fill="none"/>
<path d="M316.25 365.7v-2.4M316.25 235.3v2.4M355.55 365.7v-2.4M355.55 235.3v2.4M394.85 365.7v-2.4M394.85 235.3v2.4M434.15 365.7v-2.4M434.15 235.3v2.4" stroke="#2a2a2a" stroke-width="1" fill="none"/>
<path d="M296.6 350.37h3.8M453.8 350.37h-3.8M296.6 324.83h3.8M453.8 324.83h-3.8M296.6 299.29h3.8M453.8 299.29h-3.8M296.6 273.74h3.8M453.8 273.74h-3.8M296.6 248.2h3.8M453.8 248.2h-3.8" stroke="#2a2a2a" stroke-width="1" fill="none"/>
<path d="M296.6 337.6h2.4M453.8 337.6h-2.4M296.6 312.06h2.4M453.8 312.06h-2.4M296.6 286.51h2.4M453.8 286.51h-2.4M296.6 260.97h2.4M453.8 260.97h-2.4" stroke="#2a2a2a" stroke-width="1" fill="none"/>
<text x="296.6" y="378.4" font-size="11" text-anchor="middle" fill="#1a1a1a" >0.00</text>
<text x="335.9" y="378.4" font-size="11" text-anchor="middle" fill="#1a1a1a" >0.25</text>
<text x="375.2" y="378.4" font-size="11" text-anchor="middle" fill="#1a1a1a" >0.50</text>
<text x="414.5" y="378.4" font-size="11" text-anchor="middle" fill="#1a1a1a" >0.75</text>
<text x="453.8" y="378.4" font-size="11" text-anchor="middle" fill="#1a1a1a" >1.00</text>
<text x="292.5" y="354.17" font-size="11" text-anchor="end" fill="#1a1a1a" >−0.1</text>
<text x="292.5" y="328.63" font-size="11" text-anchor="end" fill="#1a1a1a" >0.0</text>
<text x="292.5" y="303.09" font-size="11" text-anchor="end" fill="#1a1a1a" >0.1</text>
<text x="292.5" y="277.54" font-size="11" text-anchor="end" fill="#1a1a1a" >0.2</text>
<text x="292.5" y="252" font-size="11" text-anchor="end" fill="#1a1a1a" >0.3</text>
<text x="375.3" y="396" font-size="11" text-anchor="middle" fill="#1a1a1a" >(<tspan font-style="italic">H</tspan>, 0.31) (r.l.u.)</text>
<text x="252" y="302" font-size="11" text-anchor="middle" fill="#1a1a1a" transform="rotate(-90 252 302)" ><tspan font-style="italic">S</tspan>(5K)−<tspan font-style="italic">S</tspan>(50K)</text>
<text x="263.5" y="299" font-size="11" text-anchor="middle" fill="#1a1a1a" transform="rotate(-90 263.5 299)" >(mbr sr<tspan dy="-4.2" font-size="7.5">−1</tspan><tspan dy="4.2"> meV</tspan><tspan dy="-4.2" font-size="7.5">−1</tspan><tspan dy="4.2"> f.u.</tspan><tspan dy="-4.2" font-size="7.5">−1</tspan><tspan dy="4.2">)</tspan></text>
<path d="M297.86 338.37V361.36M296.01 338.37h3.7M296.01 361.36h3.7M304.46 322.02V339.39M302.61 322.02h3.7M302.61 339.39h3.7M312.32 340.16V357.53M310.47 340.16h3.7M310.47 357.53h3.7M320.18 345.27V362.63M318.33 345.27h3.7M318.33 362.63h3.7M328.04 322.02V339.39M326.19 322.02h3.7M326.19 339.39h3.7M335.9 305.42V322.79M334.05 305.42h3.7M334.05 322.79h3.7M343.76 296.99V314.36M341.91 296.99h3.7M341.91 314.36h3.7M351.62 265.82V283.19M349.77 265.82h3.7M349.77 283.19h3.7M359.48 267.61V284.98M357.63 267.61h3.7M357.63 284.98h3.7M367.34 257.91V275.28M365.49 257.91h3.7M365.49 275.28h3.7M375.2 261.74V279.11M373.35 261.74h3.7M373.35 279.11h3.7M383.06 252.29V269.66M381.21 252.29h3.7M381.21 269.66h3.7M390.92 278.34V295.71M389.07 278.34h3.7M389.07 295.71h3.7M398.78 276.55V293.92M396.93 276.55h3.7M396.93 293.92h3.7M406.64 316.91V334.28M404.79 316.91h3.7M404.79 334.28h3.7M414.5 325.34V342.71M412.65 325.34h3.7M412.65 342.71h3.7M422.36 322.79V340.16M420.51 322.79h3.7M420.51 340.16h3.7M430.22 321V338.37M428.37 321h3.7M428.37 338.37h3.7M438.08 327.64V345.01M436.23 327.64h3.7M436.23 345.01h3.7M445.94 341.18V358.55M444.09 341.18h3.7M444.09 358.55h3.7" stroke="#8a8a8a" stroke-width="0.95" fill="none"/>
<circle cx="297.86" cy="349.86" r="3.2" fill="#000"/>
<circle cx="304.46" cy="330.71" r="3.2" fill="#000"/>
<circle cx="312.32" cy="348.84" r="3.2" fill="#000"/>
<circle cx="320.18" cy="353.95" r="3.2" fill="#000"/>
<circle cx="328.04" cy="330.71" r="3.2" fill="#000"/>
<circle cx="335.9" cy="314.1" r="3.2" fill="#000"/>
<circle cx="343.76" cy="305.67" r="3.2" fill="#000"/>
<circle cx="351.62" cy="274.51" r="3.2" fill="#000"/>
<circle cx="359.48" cy="276.3" r="3.2" fill="#000"/>
<circle cx="367.34" cy="266.59" r="3.2" fill="#000"/>
<circle cx="375.2" cy="270.42" r="3.2" fill="#000"/>
<circle cx="383.06" cy="260.97" r="3.2" fill="#000"/>
<circle cx="390.92" cy="287.03" r="3.2" fill="#000"/>
<circle cx="398.78" cy="285.24" r="3.2" fill="#000"/>
<circle cx="406.64" cy="325.6" r="3.2" fill="#000"/>
<circle cx="414.5" cy="334.03" r="3.2" fill="#000"/>
<circle cx="422.36" cy="331.47" r="3.2" fill="#000"/>
<circle cx="430.22" cy="329.68" r="3.2" fill="#000"/>
<circle cx="438.08" cy="336.32" r="3.2" fill="#000"/>
<circle cx="445.94" cy="349.86" r="3.2" fill="#000"/>
<path d="M296.6 344.43L297.39 344.35L298.17 344.26L298.96 344.16L299.74 344.05L300.53 343.93L301.32 343.81L302.1 343.67L302.89 343.52L303.67 343.36L304.46 343.19L305.25 343L306.03 342.8L306.82 342.59L307.6 342.36L308.39 342.11L309.18 341.84L309.96 341.56L310.75 341.26L311.53 340.94L312.32 340.59L313.11 340.22L313.89 339.83L314.68 339.42L315.46 338.98L316.25 338.51L317.04 338.02L317.82 337.49L318.61 336.94L319.39 336.36L320.18 335.75L320.97 335.1L321.75 334.42L322.54 333.71L323.32 332.97L324.11 332.18L324.9 331.37L325.68 330.51L326.47 329.62L327.25 328.7L328.04 327.73L328.83 326.73L329.61 325.69L330.4 324.61L331.18 323.5L331.97 322.35L332.76 321.16L333.54 319.93L334.33 318.67L335.11 317.38L335.9 316.05L336.69 314.69L337.47 313.29L338.26 311.87L339.04 310.42L339.83 308.94L340.62 307.43L341.4 305.91L342.19 304.36L342.97 302.79L343.76 301.21L344.55 299.62L345.33 298.01L346.12 296.4L346.9 294.79L347.69 293.17L348.48 291.55L349.26 289.94L350.05 288.34L350.83 286.75L351.62 285.18L352.41 283.62L353.19 282.09L353.98 280.59L354.76 279.11L355.55 277.67L356.34 276.27L357.12 274.91L357.91 273.59L358.69 272.33L359.48 271.11L360.27 269.95L361.05 268.85L361.84 267.81L362.62 266.84L363.41 265.93L364.2 265.09L364.98 264.32L365.77 263.63L366.55 263.01L367.34 262.48L368.13 262.02L368.91 261.64L369.7 261.35L370.48 261.14L371.27 261.01L372.06 260.97L372.84 261.01L373.63 261.14L374.41 261.35L375.2 261.64L375.99 262.02L376.77 262.48L377.56 263.01L378.34 263.63L379.13 264.32L379.92 265.09L380.7 265.93L381.49 266.84L382.27 267.81L383.06 268.85L383.85 269.95L384.63 271.11L385.42 272.33L386.2 273.59L386.99 274.91L387.78 276.27L388.56 277.67L389.35 279.11L390.13 280.59L390.92 282.09L391.71 283.62L392.49 285.18L393.28 286.75L394.06 288.34L394.85 289.94L395.64 291.55L396.42 293.17L397.21 294.79L397.99 296.4L398.78 298.01L399.57 299.62L400.35 301.21L401.14 302.79L401.92 304.36L402.71 305.91L403.5 307.43L404.28 308.94L405.07 310.42L405.85 311.87L406.64 313.29L407.43 314.69L408.21 316.05L409 317.38L409.78 318.67L410.57 319.93L411.36 321.16L412.14 322.35L412.93 323.5L413.71 324.61L414.5 325.69L415.29 326.73L416.07 327.73L416.86 328.7L417.64 329.62L418.43 330.51L419.22 331.37L420 332.18L420.79 332.97L421.57 333.71L422.36 334.42L423.15 335.1L423.93 335.75L424.72 336.36L425.5 336.94L426.29 337.49L427.08 338.02L427.86 338.51L428.65 338.98L429.43 339.42L430.22 339.83L431.01 340.22L431.79 340.59L432.58 340.94L433.36 341.26L434.15 341.56L434.94 341.84L435.72 342.11L436.51 342.36L437.29 342.59L438.08 342.8L438.87 343L439.65 343.19L440.44 343.36L441.22 343.52L442.01 343.67L442.8 343.81L443.58 343.93L444.37 344.05L445.15 344.16L445.94 344.26L446.73 344.35L447.51 344.43L448.3 344.51L449.08 344.58L449.87 344.64L450.66 344.7L451.44 344.76L452.23 344.8L453.01 344.85L453.8 344.89" stroke="#000" stroke-width="1.2" fill="none"/>
<text x="244" y="437.7" font-size="18" text-anchor="start" fill="#000" font-weight="bold" textLength="5.69" lengthAdjust="spacingAndGlyphs">f</text>
<rect x="295.7" y="446.2" width="158.5" height="131.9" fill="none" stroke="#2a2a2a" stroke-width="1.1"/>
<path d="M322.12 578.1v-3.8M322.12 446.2v3.8M348.53 578.1v-3.8M348.53 446.2v3.8M374.95 578.1v-3.8M374.95 446.2v3.8M401.37 578.1v-3.8M401.37 446.2v3.8M427.78 578.1v-3.8M427.78 446.2v3.8" stroke="#2a2a2a" stroke-width="1" fill="none"/>
<path d="M308.91 578.1v-2.4M308.91 446.2v2.4M335.32 578.1v-2.4M335.32 446.2v2.4M361.74 578.1v-2.4M361.74 446.2v2.4M388.16 578.1v-2.4M388.16 446.2v2.4M414.57 578.1v-2.4M414.57 446.2v2.4M440.99 578.1v-2.4M440.99 446.2v2.4" stroke="#2a2a2a" stroke-width="1" fill="none"/>
<path d="M295.7 555.18h3.8M454.2 555.18h-3.8M295.7 532.26h3.8M454.2 532.26h-3.8M295.7 509.34h3.8M454.2 509.34h-3.8M295.7 486.42h3.8M454.2 486.42h-3.8M295.7 463.5h3.8M454.2 463.5h-3.8" stroke="#2a2a2a" stroke-width="1" fill="none"/>
<path d="M295.7 566.64h2.4M454.2 566.64h-2.4M295.7 543.72h2.4M454.2 543.72h-2.4M295.7 520.8h2.4M454.2 520.8h-2.4M295.7 497.88h2.4M454.2 497.88h-2.4M295.7 474.96h2.4M454.2 474.96h-2.4M295.7 452.04h2.4M454.2 452.04h-2.4" stroke="#2a2a2a" stroke-width="1" fill="none"/>
<text x="295.7" y="589.4" font-size="11" text-anchor="middle" fill="#1a1a1a" >0.0</text>
<text x="322.12" y="589.4" font-size="11" text-anchor="middle" fill="#1a1a1a" >0.1</text>
<text x="348.53" y="589.4" font-size="11" text-anchor="middle" fill="#1a1a1a" >0.2</text>
<text x="374.95" y="589.4" font-size="11" text-anchor="middle" fill="#1a1a1a" >0.3</text>
<text x="401.37" y="589.4" font-size="11" text-anchor="middle" fill="#1a1a1a" >0.4</text>
<text x="427.78" y="589.4" font-size="11" text-anchor="middle" fill="#1a1a1a" >0.5</text>
<text x="454.2" y="589.4" font-size="11" text-anchor="middle" fill="#1a1a1a" >0.6</text>
<text x="291.5" y="581.9" font-size="11" text-anchor="end" fill="#1a1a1a" >−0.1</text>
<text x="291.5" y="558.98" font-size="11" text-anchor="end" fill="#1a1a1a" >0.0</text>
<text x="291.5" y="536.06" font-size="11" text-anchor="end" fill="#1a1a1a" >0.1</text>
<text x="291.5" y="513.14" font-size="11" text-anchor="end" fill="#1a1a1a" >0.2</text>
<text x="291.5" y="490.22" font-size="11" text-anchor="end" fill="#1a1a1a" >0.3</text>
<text x="291.5" y="467.3" font-size="11" text-anchor="end" fill="#1a1a1a" >0.4</text>
<text x="375" y="607.5" font-size="11" text-anchor="middle" fill="#1a1a1a" >(0.5, <tspan font-style="italic">K</tspan>) (r.l.u.)</text>
<text x="252" y="518" font-size="11" text-anchor="middle" fill="#1a1a1a" transform="rotate(-90 252 518)" ><tspan font-style="italic">S</tspan>(5K)−<tspan font-style="italic">S</tspan>(50K)</text>
<text x="263.5" y="518.5" font-size="11" text-anchor="middle" fill="#1a1a1a" transform="rotate(-90 263.5 518.5)" >(mbr sr<tspan dy="-4.2" font-size="7.5">−1</tspan><tspan dy="4.2"> meV</tspan><tspan dy="-4.2" font-size="7.5">−1</tspan><tspan dy="4.2"> f.u.</tspan><tspan dy="-4.2" font-size="7.5">−1</tspan><tspan dy="4.2">)</tspan></text>
<path d="M296.49 541.66V559.99M294.64 541.66h3.7M294.64 559.99h3.7M308.38 542.8V556.56M306.53 542.8h3.7M306.53 556.56h3.7M321.85 548.08V559.54M320 548.08h3.7M320 559.54h3.7M328.19 548.53V559.99M326.34 548.53h3.7M326.34 559.99h3.7M341.93 550.83V562.29M340.08 550.83h3.7M340.08 562.29h3.7M348 550.14V561.6M346.15 550.14h3.7M346.15 561.6h3.7M354.61 531.12V549.45M352.76 531.12h3.7M352.76 549.45h3.7M361.74 538.91V562.74M359.89 538.91h3.7M359.89 562.74h3.7M368.35 491.24V516.91M366.5 491.24h3.7M366.5 516.91h3.7M375.48 463.05V481.84M373.63 463.05h3.7M373.63 481.84h3.7M381.55 491.01V507.05M379.7 491.01h3.7M379.7 507.05h3.7M388.42 507.97V521.72M386.57 507.97h3.7M386.57 521.72h3.7M394.5 520.57V534.32M392.65 520.57h3.7M392.65 534.32h3.7M401.37 549.22V560.68M399.52 549.22h3.7M399.52 560.68h3.7M407.97 535.24V548.99M406.12 535.24h3.7M406.12 548.99h3.7M414.84 547.39V561.14M412.99 547.39h3.7M412.99 561.14h3.7M421.18 553.35V564.81M419.33 553.35h3.7M419.33 564.81h3.7M427.78 550.83V562.29M425.93 550.83h3.7M425.93 562.29h3.7M434.92 543.03V554.49M433.07 543.03h3.7M433.07 554.49h3.7M441.26 542.8V556.56M439.41 542.8h3.7M439.41 556.56h3.7M447.86 525.62V539.37M446.01 525.62h3.7M446.01 539.37h3.7" stroke="#8a8a8a" stroke-width="0.95" fill="none"/>
<circle cx="296.49" cy="550.83" r="3.2" fill="#000"/>
<circle cx="308.38" cy="549.68" r="3.2" fill="#000"/>
<circle cx="321.85" cy="553.81" r="3.2" fill="#000"/>
<circle cx="328.19" cy="554.26" r="3.2" fill="#000"/>
<circle cx="341.93" cy="556.56" r="3.2" fill="#000"/>
<circle cx="348" cy="555.87" r="3.2" fill="#000"/>
<circle cx="354.61" cy="540.28" r="3.2" fill="#000"/>
<circle cx="361.74" cy="550.83" r="3.2" fill="#000"/>
<circle cx="368.35" cy="504.07" r="3.2" fill="#000"/>
<circle cx="375.48" cy="472.44" r="3.2" fill="#000"/>
<circle cx="381.55" cy="499.03" r="3.2" fill="#000"/>
<circle cx="388.42" cy="514.84" r="3.2" fill="#000"/>
<circle cx="394.5" cy="527.45" r="3.2" fill="#000"/>
<circle cx="401.37" cy="554.95" r="3.2" fill="#000"/>
<circle cx="407.97" cy="542.12" r="3.2" fill="#000"/>
<circle cx="414.84" cy="554.26" r="3.2" fill="#000"/>
<circle cx="421.18" cy="559.08" r="3.2" fill="#000"/>
<circle cx="427.78" cy="556.56" r="3.2" fill="#000"/>
<circle cx="434.92" cy="548.76" r="3.2" fill="#000"/>
<circle cx="441.26" cy="549.68" r="3.2" fill="#000"/>
<circle cx="447.86" cy="532.49" r="3.2" fill="#000"/>
<path d="M295.7 551.06L296.23 551.06L296.76 551.06L297.28 551.06L297.81 551.06L298.34 551.06L298.87 551.06L299.4 551.06L299.93 551.06L300.45 551.06L300.98 551.06L301.51 551.06L302.04 551.06L302.57 551.06L303.1 551.06L303.62 551.06L304.15 551.06L304.68 551.06L305.21 551.06L305.74 551.06L306.27 551.06L306.79 551.06L307.32 551.06L307.85 551.06L308.38 551.06L308.91 551.06L309.44 551.06L309.96 551.06L310.49 551.06L311.02 551.06L311.55 551.06L312.08 551.06L312.61 551.06L313.13 551.06L313.66 551.06L314.19 551.06L314.72 551.06L315.25 551.06L315.78 551.06L316.31 551.06L316.83 551.06L317.36 551.06L317.89 551.06L318.42 551.06L318.95 551.06L319.47 551.06L320 551.06L320.53 551.06L321.06 551.06L321.59 551.06L322.12 551.06L322.64 551.06L323.17 551.06L323.7 551.06L324.23 551.06L324.76 551.06L325.29 551.05L325.81 551.05L326.34 551.05L326.87 551.05L327.4 551.05L327.93 551.05L328.46 551.05L328.99 551.05L329.51 551.05L330.04 551.05L330.57 551.05L331.1 551.05L331.63 551.05L332.15 551.05L332.68 551.05L333.21 551.04L333.74 551.04L334.27 551.04L334.8 551.03L335.32 551.03L335.85 551.02L336.38 551.01L336.91 551.01L337.44 551L337.97 550.98L338.5 550.97L339.02 550.95L339.55 550.93L340.08 550.91L340.61 550.88L341.14 550.85L341.66 550.81L342.19 550.76L342.72 550.71L343.25 550.65L343.78 550.58L344.31 550.5L344.83 550.41L345.36 550.31L345.89 550.19L346.42 550.05L346.95 549.89L347.48 549.72L348 549.52L348.53 549.3L349.06 549.04L349.59 548.76L350.12 548.45L350.65 548.09L351.17 547.7L351.7 547.27L352.23 546.8L352.76 546.27L353.29 545.69L353.82 545.06L354.34 544.38L354.87 543.63L355.4 542.81L355.93 541.94L356.46 540.99L356.99 539.97L357.51 538.88L358.04 537.72L358.57 536.48L359.1 535.17L359.63 533.78L360.16 532.32L360.69 530.79L361.21 529.18L361.74 527.51L362.27 525.77L362.8 523.97L363.33 522.11L363.85 520.21L364.38 518.26L364.91 516.27L365.44 514.26L365.97 512.23L366.5 510.19L367.02 508.14L367.55 506.11L368.08 504.1L368.61 502.13L369.14 500.19L369.67 498.31L370.19 496.5L370.72 494.77L371.25 493.13L371.78 491.59L372.31 490.16L372.84 488.85L373.37 487.68L373.89 486.64L374.42 485.75L374.95 485.01L375.48 484.43L376.01 484.01L376.53 483.76L377.06 483.67L377.59 483.76L378.12 484.01L378.65 484.43L379.18 485.01L379.7 485.75L380.23 486.64L380.76 487.68L381.29 488.85L381.82 490.16L382.35 491.59L382.88 493.13L383.4 494.77L383.93 496.5L384.46 498.31L384.99 500.19L385.52 502.13L386.04 504.1L386.57 506.11L387.1 508.14L387.63 510.19L388.16 512.23L388.69 514.26L389.22 516.27L389.74 518.26L390.27 520.21L390.8 522.11L391.33 523.97L391.86 525.77L392.38 527.51L392.91 529.18L393.44 530.79L393.97 532.32L394.5 533.78L395.03 535.17L395.55 536.48L396.08 537.72L396.61 538.88L397.14 539.97L397.67 540.99L398.2 541.94L398.73 542.81L399.25 543.63L399.78 544.38L400.31 545.06L400.84 545.69L401.37 546.27L401.89 546.8L402.42 547.27L402.95 547.7L403.48 548.09L404.01 548.45L404.54 548.76L405.06 549.04L405.59 549.3L406.12 549.52L406.65 549.72L407.18 549.89L407.71 550.05L408.24 550.19L408.76 550.31L409.29 550.41L409.82 550.5L410.35 550.58L410.88 550.65L411.4 550.71L411.93 550.76L412.46 550.81L412.99 550.85L413.52 550.88L414.05 550.91L414.57 550.93L415.1 550.95L415.63 550.97L416.16 550.98L416.69 551L417.22 551.01L417.75 551.01L418.27 551.02L418.8 551.03L419.33 551.03L419.86 551.04L420.39 551.04L420.91 551.04L421.44 551.05L421.97 551.05L422.5 551.05L423.03 551.05L423.56 551.05L424.08 551.05L424.61 551.05L425.14 551.05L425.67 551.05L426.2 551.05L426.73 551.05L427.25 551.05L427.78 551.05L428.31 551.05L428.84 551.05L429.37 551.06L429.9 551.06L430.43 551.06L430.95 551.06L431.48 551.06L432.01 551.06L432.54 551.06L433.07 551.06L433.6 551.06L434.12 551.06L434.65 551.06L435.18 551.06L435.71 551.06L436.24 551.06L436.76 551.06L437.29 551.06L437.82 551.06L438.35 551.06L438.88 551.06L439.41 551.06L439.93 551.06L440.46 551.06L440.99 551.06L441.52 551.06L442.05 551.06L442.58 551.06L443.11 551.06L443.63 551.06L444.16 551.06L444.69 551.06L445.22 551.06L445.75 551.06L446.27 551.06L446.8 551.06L447.33 551.06L447.86 551.06L448.39 551.06L448.92 551.06L449.44 551.06L449.97 551.06L450.5 551.06L451.03 551.06L451.56 551.06L452.09 551.06L452.62 551.06L453.14 551.06L453.67 551.06L454.2 551.06" stroke="#000" stroke-width="1.2" fill="none"/>
<text x="480.7" y="15.5" font-size="18" text-anchor="start" fill="#000" font-weight="bold" textLength="10.45" lengthAdjust="spacingAndGlyphs">g</text>
<path d="M526.7 23.9V155.9" stroke="#000" stroke-width="1" stroke-dasharray="2.2 2"/>
<rect x="516.2" y="23.9" width="157.5" height="132" fill="none" stroke="#2a2a2a" stroke-width="1.1"/>
<path d="M526.7 155.9v-3.8M526.7 23.9v3.8M568.7 155.9v-3.8M568.7 23.9v3.8M610.7 155.9v-3.8M610.7 23.9v3.8M652.7 155.9v-3.8M652.7 23.9v3.8" stroke="#2a2a2a" stroke-width="1" fill="none"/>
<path d="M547.7 155.9v-2.4M547.7 23.9v2.4M589.7 155.9v-2.4M589.7 23.9v2.4M631.7 155.9v-2.4M631.7 23.9v2.4" stroke="#2a2a2a" stroke-width="1" fill="none"/>
<path d="M516.2 143.9h3.8M673.7 143.9h-3.8M516.2 95.9h3.8M673.7 95.9h-3.8M516.2 47.9h3.8M673.7 47.9h-3.8" stroke="#2a2a2a" stroke-width="1" fill="none"/>
<path d="M516.2 119.9h2.4M673.7 119.9h-2.4M516.2 71.9h2.4M673.7 71.9h-2.4" stroke="#2a2a2a" stroke-width="1" fill="none"/>
<text x="526.7" y="167.2" font-size="11" text-anchor="middle" fill="#1a1a1a" >0</text>
<text x="568.7" y="167.2" font-size="11" text-anchor="middle" fill="#1a1a1a" >20</text>
<text x="610.7" y="167.2" font-size="11" text-anchor="middle" fill="#1a1a1a" >40</text>
<text x="652.7" y="167.2" font-size="11" text-anchor="middle" fill="#1a1a1a" >60</text>
<text x="513.3" y="147.7" font-size="11" text-anchor="end" fill="#1a1a1a" >380</text>
<text x="513.3" y="99.7" font-size="11" text-anchor="end" fill="#1a1a1a" >390</text>
<text x="513.3" y="51.7" font-size="11" text-anchor="end" fill="#1a1a1a" >400</text>
<text x="595" y="183.5" font-size="11" text-anchor="middle" fill="#1a1a1a" ><tspan font-style="italic">T</tspan> (K)</text>
<text x="487" y="93" font-size="11" text-anchor="middle" fill="#1a1a1a" transform="rotate(-90 487 93)" >Intensity (cts min<tspan dy="-4.2" font-size="7.5">−1</tspan><tspan dy="4.2">)</tspan></text>
<path d="M532.37 48.38V73.34M530.52 48.38h3.7M530.52 73.34h3.7M547.7 28.7V53.66M545.85 28.7h3.7M545.85 53.66h3.7M558.2 40.22V65.18M556.35 40.22h3.7M556.35 65.18h3.7M568.7 47.42V72.38M566.85 47.42h3.7M566.85 72.38h3.7M579.2 38.3V63.26M577.35 38.3h3.7M577.35 63.26h3.7M589.7 77.18V101.18M587.85 77.18h3.7M587.85 101.18h3.7M600.2 88.7V112.7M598.35 88.7h3.7M598.35 112.7h3.7M610.7 116.06V140.06M608.85 116.06h3.7M608.85 140.06h3.7M616.58 116.06V140.06M614.73 116.06h3.7M614.73 140.06h3.7M621.62 104.06V128.06M619.77 104.06h3.7M619.77 128.06h3.7M642.62 98.3V122.3M640.77 98.3h3.7M640.77 122.3h3.7M663.62 92.54V116.54M661.77 92.54h3.7M661.77 116.54h3.7" stroke="#b9b98a" stroke-width="0.95" fill="none"/>
<circle cx="532.37" cy="60.86" r="3.5" fill="#7b7b12"/>
<circle cx="547.7" cy="41.18" r="3.5" fill="#7b7b12"/>
<circle cx="558.2" cy="52.7" r="3.5" fill="#7b7b12"/>
<circle cx="568.7" cy="59.9" r="3.5" fill="#7b7b12"/>
<circle cx="579.2" cy="50.78" r="3.5" fill="#7b7b12"/>
<circle cx="589.7" cy="89.18" r="3.5" fill="#7b7b12"/>
<circle cx="600.2" cy="100.7" r="3.5" fill="#7b7b12"/>
<circle cx="610.7" cy="128.06" r="3.5" fill="#7b7b12"/>
<circle cx="616.58" cy="128.06" r="3.5" fill="#7b7b12"/>
<circle cx="621.62" cy="116.06" r="3.5" fill="#7b7b12"/>
<circle cx="642.62" cy="110.3" r="3.5" fill="#7b7b12"/>
<circle cx="663.62" cy="104.54" r="3.5" fill="#7b7b12"/>
<path d="M526.7 50.3L527.19 50.33L527.68 50.37L528.17 50.4L528.66 50.44L529.15 50.48L529.64 50.52L530.13 50.57L530.62 50.61L531.11 50.66L531.6 50.71L532.09 50.76L532.58 50.82L533.07 50.87L533.56 50.93L534.05 50.99L534.54 51.05L535.03 51.11L535.52 51.18L536.01 51.25L536.5 51.31L536.99 51.38L537.48 51.46L537.97 51.53L538.46 51.61L538.95 51.68L539.44 51.76L539.93 51.85L540.42 51.94L540.91 52.04L541.4 52.14L541.89 52.25L542.38 52.37L542.87 52.49L543.36 52.61L543.85 52.74L544.34 52.88L544.83 53.02L545.32 53.16L545.81 53.31L546.3 53.46L546.79 53.61L547.28 53.77L547.77 53.93L548.26 54.09L548.75 54.25L549.24 54.42L549.73 54.58L550.22 54.75L550.71 54.92L551.2 55.09L551.69 55.26L552.18 55.43L552.67 55.6L553.16 55.77L553.65 55.94L554.14 56.11L554.63 56.28L555.12 56.44L555.61 56.61L556.1 56.78L556.59 56.95L557.08 57.13L557.57 57.3L558.06 57.48L558.55 57.65L559.04 57.83L559.53 58.01L560.02 58.2L560.51 58.38L561 58.57L561.49 58.76L561.98 58.96L562.47 59.16L562.96 59.36L563.45 59.57L563.94 59.78L564.43 59.99L564.92 60.21L565.41 60.43L565.9 60.66L566.39 60.9L566.88 61.13L567.37 61.38L567.86 61.63L568.35 61.89L568.84 62.15L569.33 62.42L569.82 62.7L570.31 62.99L570.8 63.3L571.29 63.62L571.78 63.96L572.27 64.3L572.76 64.66L573.25 65.02L573.74 65.4L574.23 65.78L574.72 66.17L575.21 66.57L575.7 66.98L576.19 67.4L576.68 67.82L577.17 68.24L577.66 68.67L578.15 69.11L578.64 69.55L579.13 69.99L579.62 70.44L580.11 70.89L580.6 71.34L581.09 71.79L581.58 72.24L582.07 72.69L582.56 73.15L583.05 73.6L583.54 74.04L584.03 74.49L584.52 74.94L585.01 75.38L585.5 75.82L585.99 76.27L586.48 76.72L586.97 77.17L587.46 77.63L587.95 78.1L588.44 78.57L588.93 79.05L589.42 79.55L589.91 80.05L590.4 80.57L590.89 81.11L591.38 81.66L591.87 82.23L592.36 82.81L592.85 83.42L593.34 84.05L593.83 84.72L594.32 85.43L594.81 86.16L595.3 86.91L595.79 87.7L596.28 88.5L596.77 89.32L597.26 90.17L597.75 91.02L598.24 91.89L598.73 92.76L599.22 93.64L599.71 94.53L600.2 95.42L600.69 96.31L601.18 97.2L601.67 98.11L602.16 99.03L602.65 99.97L603.14 100.93L603.63 101.93L604.12 102.96L604.61 104.03L605.1 105.15L605.59 106.34L606.08 107.85L606.57 109.65L607.06 111.56L607.55 113.41L608.04 115.04L608.53 116.28L609.02 116.95L609.51 117.02L610 117.02L610.49 117.02L610.98 117.02L611.47 117.02L611.96 117.02L612.45 117.02L612.94 117.02L613.43 117.02L613.92 117.02L614.41 117.02L614.9 117.02L615.39 117.02L615.88 117.02L616.37 117.02L616.86 117.02L617.35 117.02L617.84 117.02L618.33 117.02L618.82 117.02L619.31 117.02L619.8 117.02L620.29 117.02L620.78 117.02L621.27 117.02L621.76 117.02L622.25 117.02L622.74 117.02L623.23 117.02L623.72 117.02L624.21 117.02L624.7 117.02L625.19 117.02L625.68 117.02L626.17 117.02L626.66 117.02L627.15 117.02L627.64 117.02L628.13 117.02L628.62 117.02L629.11 117.02L629.6 117.02L630.09 117.02L630.58 117.02L631.07 117.02L631.56 117.02L632.05 117.02L632.54 117.02L633.03 117.02L633.52 117.02L634.01 117.02L634.5 117.02L634.99 117.02L635.48 117.02L635.97 117.02L636.46 117.02L636.95 117.02L637.44 117.02L637.93 117.02L638.42 117.02L638.91 117.02L639.4 117.02L639.89 117.02L640.38 117.02L640.87 117.02L641.36 117.02L641.85 117.02L642.34 117.02L642.83 117.02L643.32 117.02L643.81 117.02L644.3 117.02L644.79 117.02L645.28 117.02L645.77 117.02L646.26 117.02L646.75 117.02L647.24 117.02L647.73 117.02L648.22 117.02L648.71 117.02L649.2 117.02L649.69 117.02L650.18 117.02L650.67 117.02L651.16 117.02L651.65 117.02L652.14 117.02L652.63 117.02L653.12 117.02L653.61 117.02L654.1 117.02L654.59 117.02L655.08 117.02L655.57 117.02L656.06 117.02L656.55 117.02L657.04 117.02L657.53 117.02L658.02 117.02L658.51 117.02L659 117.02L659.49 117.02L659.98 117.02L660.47 117.02L660.96 117.02L661.45 117.02L661.94 117.02L662.43 117.02L662.92 117.02L663.41 117.02L663.9 117.02L664.39 117.02L664.88 117.02L665.37 117.02L665.86 117.02L666.35 117.02L666.84 117.02L667.33 117.02L667.82 117.02L668.31 117.02L668.8 117.02L669.29 117.02L669.78 117.02L670.27 117.02L670.76 117.02L671.25 117.02L671.74 117.02L672.23 117.02L672.72 117.02L673.21 117.02L673.7 117.02" stroke="#6e6e10" stroke-width="1.4" fill="none"/>
<text x="671.5" y="38.9" font-size="11" text-anchor="end" fill="#1a1a1a" ><tspan font-weight="bold">Q</tspan> = (0.5, 0.69, 0)</text>
<text x="587.7" y="50.7" font-size="11" text-anchor="start" fill="#1a1a1a" ><tspan font-style="italic">E</tspan> = 21 meV</text>
<text x="480.7" y="225.4" font-size="18" text-anchor="start" fill="#000" font-weight="bold" textLength="10.45" lengthAdjust="spacingAndGlyphs">h</text>
<text x="585.5" y="231.5" font-size="10.8" text-anchor="middle" fill="#1a1a1a" >17 meV &lt; <tspan font-style="italic">E</tspan> &lt; 27 meV</text>
<defs><filter id="hb" x="-5%" y="-5%" width="110%" height="110%"><feGaussianBlur stdDeviation="0.85"/></filter></defs><g filter="url(#hb)" shape-rendering="crispEdges">
<path d="M521 236.3H618.5V303H621.3V325.6H623.9V366.3H521Z" fill="#000"/>
<rect x="547" y="361.1" width="2.65" height="2.65" fill="#432274"/>
<rect x="562.6" y="358.5" width="2.65" height="2.65" fill="#49278f"/>
<rect x="599" y="358.5" width="2.65" height="2.65" fill="#2e3ea7"/>
<rect x="601.6" y="358.5" width="2.65" height="2.65" fill="#2e3ea7"/>
<rect x="578.2" y="355.9" width="2.65" height="2.65" fill="#303ba5"/>
<rect x="580.8" y="355.9" width="2.65" height="2.65" fill="#3a2f9f"/>
<rect x="578.2" y="353.3" width="2.65" height="2.65" fill="#442a95"/>
<rect x="591.2" y="353.3" width="2.65" height="2.65" fill="#3634a2"/>
<rect x="617.2" y="353.3" width="2.65" height="2.65" fill="#45237d"/>
<rect x="565.2" y="350.7" width="2.65" height="2.65" fill="#3239a4"/>
<rect x="588.6" y="350.7" width="2.65" height="2.65" fill="#402c99"/>
<rect x="591.2" y="350.7" width="2.65" height="2.65" fill="#3238a4"/>
<rect x="521" y="348.1" width="2.65" height="2.65" fill="#422170"/>
<rect x="560" y="348.1" width="2.65" height="2.65" fill="#49278d"/>
<rect x="565.2" y="348.1" width="2.65" height="2.65" fill="#492890"/>
<rect x="575.6" y="348.1" width="2.65" height="2.65" fill="#3634a2"/>
<rect x="588.6" y="348.1" width="2.65" height="2.65" fill="#3732a1"/>
<rect x="521" y="345.5" width="2.65" height="2.65" fill="#3732a1"/>
<rect x="562.6" y="345.5" width="2.65" height="2.65" fill="#3437a3"/>
<rect x="593.8" y="345.5" width="2.65" height="2.65" fill="#402c99"/>
<rect x="521" y="342.9" width="2.65" height="2.65" fill="#3239a4"/>
<rect x="523.6" y="342.9" width="2.65" height="2.65" fill="#48268a"/>
<rect x="560" y="342.9" width="2.65" height="2.65" fill="#402c99"/>
<rect x="573" y="342.9" width="2.65" height="2.65" fill="#2f3da6"/>
<rect x="583.4" y="342.9" width="2.65" height="2.65" fill="#3337a3"/>
<rect x="586" y="342.9" width="2.65" height="2.65" fill="#412c98"/>
<rect x="523.6" y="340.3" width="2.65" height="2.65" fill="#3f2d9a"/>
<rect x="583.4" y="340.3" width="2.65" height="2.65" fill="#2c40a8"/>
<rect x="586" y="340.3" width="2.65" height="2.65" fill="#45247f"/>
<rect x="596.4" y="340.3" width="2.65" height="2.65" fill="#3338a4"/>
<rect x="557.4" y="337.7" width="2.65" height="2.65" fill="#3238a4"/>
<rect x="599" y="337.7" width="2.65" height="2.65" fill="#422b97"/>
<rect x="601.6" y="337.7" width="2.65" height="2.65" fill="#442a95"/>
<rect x="578.2" y="335.1" width="2.65" height="2.65" fill="#462582"/>
<rect x="601.6" y="335.1" width="2.65" height="2.65" fill="#442a95"/>
<rect x="573" y="332.5" width="2.65" height="2.65" fill="#412c98"/>
<rect x="575.6" y="332.5" width="2.65" height="2.65" fill="#3ca4dc"/>
<rect x="578.2" y="332.5" width="2.65" height="2.65" fill="#e8d632"/>
<rect x="580.8" y="332.5" width="2.65" height="2.65" fill="#e5d633"/>
<rect x="583.4" y="332.5" width="2.65" height="2.65" fill="#f0d02e"/>
<rect x="586" y="332.5" width="2.65" height="2.65" fill="#dfd535"/>
<rect x="588.6" y="332.5" width="2.65" height="2.65" fill="#cbd13c"/>
<rect x="591.2" y="332.5" width="2.65" height="2.65" fill="#e7d632"/>
<rect x="593.8" y="332.5" width="2.65" height="2.65" fill="#6cb640"/>
<rect x="596.4" y="332.5" width="2.65" height="2.65" fill="#244aad"/>
<rect x="570.4" y="329.9" width="2.65" height="2.65" fill="#2c40a8"/>
<rect x="573" y="329.9" width="2.65" height="2.65" fill="#79bc40"/>
<rect x="575.6" y="329.9" width="2.65" height="2.65" fill="#f0a425"/>
<rect x="578.2" y="329.9" width="2.65" height="2.65" fill="#e02a20"/>
<rect x="580.8" y="329.9" width="2.65" height="2.65" fill="#e02a20"/>
<rect x="583.4" y="329.9" width="2.65" height="2.65" fill="#e02a20"/>
<rect x="586" y="329.9" width="2.65" height="2.65" fill="#e12d20"/>
<rect x="588.6" y="329.9" width="2.65" height="2.65" fill="#e02a20"/>
<rect x="591.2" y="329.9" width="2.65" height="2.65" fill="#e43221"/>
<rect x="593.8" y="329.9" width="2.65" height="2.65" fill="#ead731"/>
<rect x="596.4" y="329.9" width="2.65" height="2.65" fill="#75ba40"/>
<rect x="599" y="329.9" width="2.65" height="2.65" fill="#3082d0"/>
<rect x="562.6" y="327.3" width="2.65" height="2.65" fill="#44237a"/>
<rect x="567.8" y="327.3" width="2.65" height="2.65" fill="#442278"/>
<rect x="570.4" y="327.3" width="2.65" height="2.65" fill="#4ab5c1"/>
<rect x="573" y="327.3" width="2.65" height="2.65" fill="#68b440"/>
<rect x="575.6" y="327.3" width="2.65" height="2.65" fill="#dbd436"/>
<rect x="578.2" y="327.3" width="2.65" height="2.65" fill="#e02a20"/>
<rect x="580.8" y="327.3" width="2.65" height="2.65" fill="#e02a20"/>
<rect x="583.4" y="327.3" width="2.65" height="2.65" fill="#e02a20"/>
<rect x="586" y="327.3" width="2.65" height="2.65" fill="#e02a20"/>
<rect x="588.6" y="327.3" width="2.65" height="2.65" fill="#e02a20"/>
<rect x="591.2" y="327.3" width="2.65" height="2.65" fill="#e02a20"/>
<rect x="593.8" y="327.3" width="2.65" height="2.65" fill="#e02a20"/>
<rect x="596.4" y="327.3" width="2.65" height="2.65" fill="#f09f24"/>
<rect x="599" y="327.3" width="2.65" height="2.65" fill="#6bb540"/>
<rect x="601.6" y="327.3" width="2.65" height="2.65" fill="#452a94"/>
<rect x="604.2" y="327.3" width="2.65" height="2.65" fill="#442a95"/>
<rect x="549.6" y="324.7" width="2.65" height="2.65" fill="#2258b5"/>
<rect x="552.2" y="324.7" width="2.65" height="2.65" fill="#3238a4"/>
<rect x="554.8" y="324.7" width="2.65" height="2.65" fill="#3c2e9d"/>
<rect x="560" y="324.7" width="2.65" height="2.65" fill="#3733a1"/>
<rect x="565.2" y="324.7" width="2.65" height="2.65" fill="#3b2f9e"/>
<rect x="567.8" y="324.7" width="2.65" height="2.65" fill="#60b040"/>
<rect x="570.4" y="324.7" width="2.65" height="2.65" fill="#b1cc40"/>
<rect x="573" y="324.7" width="2.65" height="2.65" fill="#8ac240"/>
<rect x="575.6" y="324.7" width="2.65" height="2.65" fill="#f0c12b"/>
<rect x="578.2" y="324.7" width="2.65" height="2.65" fill="#e02a20"/>
<rect x="580.8" y="324.7" width="2.65" height="2.65" fill="#e02a20"/>
<rect x="583.4" y="324.7" width="2.65" height="2.65" fill="#e02a20"/>
<rect x="586" y="324.7" width="2.65" height="2.65" fill="#e02a20"/>
<rect x="588.6" y="324.7" width="2.65" height="2.65" fill="#e02a20"/>
<rect x="591.2" y="324.7" width="2.65" height="2.65" fill="#e02a20"/>
<rect x="593.8" y="324.7" width="2.65" height="2.65" fill="#f0b027"/>
<rect x="596.4" y="324.7" width="2.65" height="2.65" fill="#6ab540"/>
<rect x="599" y="324.7" width="2.65" height="2.65" fill="#83c040"/>
<rect x="601.6" y="324.7" width="2.65" height="2.65" fill="#472584"/>
<rect x="604.2" y="324.7" width="2.65" height="2.65" fill="#432b96"/>
<rect x="606.8" y="324.7" width="2.65" height="2.65" fill="#2d3fa7"/>
<rect x="547" y="322.1" width="2.65" height="2.65" fill="#38184c"/>
<rect x="549.6" y="322.1" width="2.65" height="2.65" fill="#2258b5"/>
<rect x="552.2" y="322.1" width="2.65" height="2.65" fill="#234cae"/>
<rect x="554.8" y="322.1" width="2.65" height="2.65" fill="#338bd3"/>
<rect x="557.4" y="322.1" width="2.65" height="2.65" fill="#3c2e9d"/>
<rect x="560" y="322.1" width="2.65" height="2.65" fill="#3e2d9b"/>
<rect x="562.6" y="322.1" width="2.65" height="2.65" fill="#2d3fa7"/>
<rect x="565.2" y="322.1" width="2.65" height="2.65" fill="#bdcf40"/>
<rect x="567.8" y="322.1" width="2.65" height="2.65" fill="#84c140"/>
<rect x="570.4" y="322.1" width="2.65" height="2.65" fill="#93c440"/>
<rect x="573" y="322.1" width="2.65" height="2.65" fill="#c3d03e"/>
<rect x="575.6" y="322.1" width="2.65" height="2.65" fill="#98c640"/>
<rect x="578.2" y="322.1" width="2.65" height="2.65" fill="#f09923"/>
<rect x="580.8" y="322.1" width="2.65" height="2.65" fill="#c8d13d"/>
<rect x="583.4" y="322.1" width="2.65" height="2.65" fill="#f0b128"/>
<rect x="586" y="322.1" width="2.65" height="2.65" fill="#d4d339"/>
<rect x="588.6" y="322.1" width="2.65" height="2.65" fill="#dcd436"/>
<rect x="591.2" y="322.1" width="2.65" height="2.65" fill="#f0c62c"/>
<rect x="593.8" y="322.1" width="2.65" height="2.65" fill="#75ba40"/>
<rect x="596.4" y="322.1" width="2.65" height="2.65" fill="#65b240"/>
<rect x="599" y="322.1" width="2.65" height="2.65" fill="#348ed4"/>
<rect x="604.2" y="322.1" width="2.65" height="2.65" fill="#492890"/>
<rect x="609.4" y="322.1" width="2.65" height="2.65" fill="#412c98"/>
<rect x="547" y="319.5" width="2.65" height="2.65" fill="#3c1c5a"/>
<rect x="549.6" y="319.5" width="2.65" height="2.65" fill="#2258b5"/>
<rect x="552.2" y="319.5" width="2.65" height="2.65" fill="#2154b3"/>
<rect x="554.8" y="319.5" width="2.65" height="2.65" fill="#3694d6"/>
<rect x="557.4" y="319.5" width="2.65" height="2.65" fill="#3732a1"/>
<rect x="560" y="319.5" width="2.65" height="2.65" fill="#3931a0"/>
<rect x="562.6" y="319.5" width="2.65" height="2.65" fill="#91c440"/>
<rect x="565.2" y="319.5" width="2.65" height="2.65" fill="#b8ce40"/>
<rect x="567.8" y="319.5" width="2.65" height="2.65" fill="#77bb40"/>
<rect x="570.4" y="319.5" width="2.65" height="2.65" fill="#7ebf40"/>
<rect x="573" y="319.5" width="2.65" height="2.65" fill="#77bb40"/>
<rect x="575.6" y="319.5" width="2.65" height="2.65" fill="#7dbe40"/>
<rect x="578.2" y="319.5" width="2.65" height="2.65" fill="#70b840"/>
<rect x="580.8" y="319.5" width="2.65" height="2.65" fill="#67b340"/>
<rect x="583.4" y="319.5" width="2.65" height="2.65" fill="#60b049"/>
<rect x="586" y="319.5" width="2.65" height="2.65" fill="#5db160"/>
<rect x="588.6" y="319.5" width="2.65" height="2.65" fill="#60b046"/>
<rect x="591.2" y="319.5" width="2.65" height="2.65" fill="#56b486"/>
<rect x="593.8" y="319.5" width="2.65" height="2.65" fill="#60b04b"/>
<rect x="596.4" y="319.5" width="2.65" height="2.65" fill="#244aad"/>
<rect x="599" y="319.5" width="2.65" height="2.65" fill="#3238a4"/>
<rect x="601.6" y="319.5" width="2.65" height="2.65" fill="#442379"/>
<rect x="604.2" y="319.5" width="2.65" height="2.65" fill="#462583"/>
<rect x="606.8" y="319.5" width="2.65" height="2.65" fill="#432b96"/>
<rect x="609.4" y="319.5" width="2.65" height="2.65" fill="#2f3da6"/>
<rect x="547" y="316.9" width="2.65" height="2.65" fill="#401f6a"/>
<rect x="549.6" y="316.9" width="2.65" height="2.65" fill="#2258b5"/>
<rect x="552.2" y="316.9" width="2.65" height="2.65" fill="#2c76c9"/>
<rect x="554.8" y="316.9" width="2.65" height="2.65" fill="#3287d2"/>
<rect x="557.4" y="316.9" width="2.65" height="2.65" fill="#402c99"/>
<rect x="560" y="316.9" width="2.65" height="2.65" fill="#8fc340"/>
<rect x="562.6" y="316.9" width="2.65" height="2.65" fill="#b1cc40"/>
<rect x="565.2" y="316.9" width="2.65" height="2.65" fill="#9ac640"/>
<rect x="567.8" y="316.9" width="2.65" height="2.65" fill="#7bbd40"/>
<rect x="570.4" y="316.9" width="2.65" height="2.65" fill="#97c540"/>
<rect x="573" y="316.9" width="2.65" height="2.65" fill="#c3d03e"/>
<rect x="575.6" y="316.9" width="2.65" height="2.65" fill="#77bb40"/>
<rect x="578.2" y="316.9" width="2.65" height="2.65" fill="#432274"/>
<rect x="586" y="316.9" width="2.65" height="2.65" fill="#204faf"/>
<rect x="588.6" y="316.9" width="2.65" height="2.65" fill="#204faf"/>
<rect x="591.2" y="316.9" width="2.65" height="2.65" fill="#3e2d9b"/>
<rect x="593.8" y="316.9" width="2.65" height="2.65" fill="#235bb7"/>
<rect x="596.4" y="316.9" width="2.65" height="2.65" fill="#2c40a8"/>
<rect x="599" y="316.9" width="2.65" height="2.65" fill="#2746ab"/>
<rect x="604.2" y="316.9" width="2.65" height="2.65" fill="#3d2e9c"/>
<rect x="606.8" y="316.9" width="2.65" height="2.65" fill="#296bc2"/>
<rect x="609.4" y="316.9" width="2.65" height="2.65" fill="#3239a4"/>
<rect x="612" y="316.9" width="2.65" height="2.65" fill="#472586"/>
<rect x="547" y="314.3" width="2.65" height="2.65" fill="#44237b"/>
<rect x="549.6" y="314.3" width="2.65" height="2.65" fill="#2258b5"/>
<rect x="552.2" y="314.3" width="2.65" height="2.65" fill="#348ed4"/>
<rect x="554.8" y="314.3" width="2.65" height="2.65" fill="#3eacde"/>
<rect x="557.4" y="314.3" width="2.65" height="2.65" fill="#41b0da"/>
<rect x="560" y="314.3" width="2.65" height="2.65" fill="#a0c840"/>
<rect x="562.6" y="314.3" width="2.65" height="2.65" fill="#a2c840"/>
<rect x="565.2" y="314.3" width="2.65" height="2.65" fill="#b0cc40"/>
<rect x="567.8" y="314.3" width="2.65" height="2.65" fill="#bbce40"/>
<rect x="570.4" y="314.3" width="2.65" height="2.65" fill="#c0d03f"/>
<rect x="573" y="314.3" width="2.65" height="2.65" fill="#4eb7b4"/>
<rect x="588.6" y="314.3" width="2.65" height="2.65" fill="#45237d"/>
<rect x="591.2" y="314.3" width="2.65" height="2.65" fill="#2662bc"/>
<rect x="593.8" y="314.3" width="2.65" height="2.65" fill="#245db9"/>
<rect x="596.4" y="314.3" width="2.65" height="2.65" fill="#235ab7"/>
<rect x="599" y="314.3" width="2.65" height="2.65" fill="#422b97"/>
<rect x="601.6" y="314.3" width="2.65" height="2.65" fill="#255fba"/>
<rect x="604.2" y="314.3" width="2.65" height="2.65" fill="#4fb7b1"/>
<rect x="606.8" y="314.3" width="2.65" height="2.65" fill="#60b046"/>
<rect x="609.4" y="314.3" width="2.65" height="2.65" fill="#63b140"/>
<rect x="612" y="314.3" width="2.65" height="2.65" fill="#303ba5"/>
<rect x="547" y="311.7" width="2.65" height="2.65" fill="#49278d"/>
<rect x="549.6" y="311.7" width="2.65" height="2.65" fill="#2258b5"/>
<rect x="552.2" y="311.7" width="2.65" height="2.65" fill="#2a6ec4"/>
<rect x="554.8" y="311.7" width="2.65" height="2.65" fill="#2d77ca"/>
<rect x="557.4" y="311.7" width="2.65" height="2.65" fill="#bdcf40"/>
<rect x="560" y="311.7" width="2.65" height="2.65" fill="#7dbe40"/>
<rect x="562.6" y="311.7" width="2.65" height="2.65" fill="#bdcf40"/>
<rect x="565.2" y="311.7" width="2.65" height="2.65" fill="#adcb40"/>
<rect x="567.8" y="311.7" width="2.65" height="2.65" fill="#accb40"/>
<rect x="570.4" y="311.7" width="2.65" height="2.65" fill="#2c75c9"/>
<rect x="588.6" y="311.7" width="2.65" height="2.65" fill="#2e3ea7"/>
<rect x="591.2" y="311.7" width="2.65" height="2.65" fill="#2746ab"/>
<rect x="593.8" y="311.7" width="2.65" height="2.65" fill="#402c99"/>
<rect x="601.6" y="311.7" width="2.65" height="2.65" fill="#442278"/>
<rect x="604.2" y="311.7" width="2.65" height="2.65" fill="#60b04e"/>
<rect x="606.8" y="311.7" width="2.65" height="2.65" fill="#68b440"/>
<rect x="609.4" y="311.7" width="2.65" height="2.65" fill="#6cb640"/>
<rect x="612" y="311.7" width="2.65" height="2.65" fill="#399bd9"/>
<rect x="547" y="309.1" width="2.65" height="2.65" fill="#452a94"/>
<rect x="549.6" y="309.1" width="2.65" height="2.65" fill="#2258b5"/>
<rect x="552.2" y="309.1" width="2.65" height="2.65" fill="#3b2f9e"/>
<rect x="554.8" y="309.1" width="2.65" height="2.65" fill="#75ba40"/>
<rect x="557.4" y="309.1" width="2.65" height="2.65" fill="#d3d339"/>
<rect x="560" y="309.1" width="2.65" height="2.65" fill="#ec6220"/>
<rect x="562.6" y="309.1" width="2.65" height="2.65" fill="#e94621"/>
<rect x="565.2" y="309.1" width="2.65" height="2.65" fill="#aaca40"/>
<rect x="567.8" y="309.1" width="2.65" height="2.65" fill="#63b140"/>
<rect x="588.6" y="309.1" width="2.65" height="2.65" fill="#472687"/>
<rect x="591.2" y="309.1" width="2.65" height="2.65" fill="#2e3ea7"/>
<rect x="593.8" y="309.1" width="2.65" height="2.65" fill="#2258b5"/>
<rect x="604.2" y="309.1" width="2.65" height="2.65" fill="#2d3ea7"/>
<rect x="606.8" y="309.1" width="2.65" height="2.65" fill="#77bb40"/>
<rect x="609.4" y="309.1" width="2.65" height="2.65" fill="#6fb740"/>
<rect x="612" y="309.1" width="2.65" height="2.65" fill="#62b140"/>
<rect x="547" y="306.5" width="2.65" height="2.65" fill="#402c99"/>
<rect x="549.6" y="306.5" width="2.65" height="2.65" fill="#2258b5"/>
<rect x="552.2" y="306.5" width="2.65" height="2.65" fill="#402c99"/>
<rect x="554.8" y="306.5" width="2.65" height="2.65" fill="#88c240"/>
<rect x="557.4" y="306.5" width="2.65" height="2.65" fill="#e6d633"/>
<rect x="560" y="306.5" width="2.65" height="2.65" fill="#e73821"/>
<rect x="562.6" y="306.5" width="2.65" height="2.65" fill="#ea5321"/>
<rect x="565.2" y="306.5" width="2.65" height="2.65" fill="#f0c82c"/>
<rect x="567.8" y="306.5" width="2.65" height="2.65" fill="#37184c"/>
<rect x="588.6" y="306.5" width="2.65" height="2.65" fill="#3f2d9a"/>
<rect x="591.2" y="306.5" width="2.65" height="2.65" fill="#412c98"/>
<rect x="593.8" y="306.5" width="2.65" height="2.65" fill="#2e3ea7"/>
<rect x="604.2" y="306.5" width="2.65" height="2.65" fill="#422b97"/>
<rect x="606.8" y="306.5" width="2.65" height="2.65" fill="#6db640"/>
<rect x="609.4" y="306.5" width="2.65" height="2.65" fill="#62b140"/>
<rect x="612" y="306.5" width="2.65" height="2.65" fill="#65b240"/>
<rect x="549.6" y="303.9" width="2.65" height="2.65" fill="#402c99"/>
<rect x="552.2" y="303.9" width="2.65" height="2.65" fill="#3931a0"/>
<rect x="554.8" y="303.9" width="2.65" height="2.65" fill="#c4d03e"/>
<rect x="557.4" y="303.9" width="2.65" height="2.65" fill="#7ebf40"/>
<rect x="560" y="303.9" width="2.65" height="2.65" fill="#f0c72c"/>
<rect x="562.6" y="303.9" width="2.65" height="2.65" fill="#f0cd2d"/>
<rect x="565.2" y="303.9" width="2.65" height="2.65" fill="#45b2ce"/>
<rect x="578.2" y="303.9" width="2.65" height="2.65" fill="#482891"/>
<rect x="580.8" y="303.9" width="2.65" height="2.65" fill="#45237d"/>
<rect x="583.4" y="303.9" width="2.65" height="2.65" fill="#2e3ea7"/>
<rect x="586" y="303.9" width="2.65" height="2.65" fill="#2051b0"/>
<rect x="588.6" y="303.9" width="2.65" height="2.65" fill="#2647ab"/>
<rect x="591.2" y="303.9" width="2.65" height="2.65" fill="#44237a"/>
<rect x="593.8" y="303.9" width="2.65" height="2.65" fill="#3f2d9a"/>
<rect x="604.2" y="303.9" width="2.65" height="2.65" fill="#2359b6"/>
<rect x="606.8" y="303.9" width="2.65" height="2.65" fill="#64b240"/>
<rect x="609.4" y="303.9" width="2.65" height="2.65" fill="#72b940"/>
<rect x="612" y="303.9" width="2.65" height="2.65" fill="#f0aa26"/>
<rect x="614.6" y="303.9" width="2.65" height="2.65" fill="#492890"/>
<rect x="544.4" y="301.3" width="2.65" height="2.65" fill="#482891"/>
<rect x="549.6" y="301.3" width="2.65" height="2.65" fill="#402c99"/>
<rect x="552.2" y="301.3" width="2.65" height="2.65" fill="#296cc3"/>
<rect x="554.8" y="301.3" width="2.65" height="2.65" fill="#b8ce40"/>
<rect x="557.4" y="301.3" width="2.65" height="2.65" fill="#83c040"/>
<rect x="560" y="301.3" width="2.65" height="2.65" fill="#81c040"/>
<rect x="562.6" y="301.3" width="2.65" height="2.65" fill="#a9ca40"/>
<rect x="565.2" y="301.3" width="2.65" height="2.65" fill="#235bb7"/>
<rect x="578.2" y="301.3" width="2.65" height="2.65" fill="#45237d"/>
<rect x="580.8" y="301.3" width="2.65" height="2.65" fill="#422b97"/>
<rect x="583.4" y="301.3" width="2.65" height="2.65" fill="#472992"/>
<rect x="586" y="301.3" width="2.65" height="2.65" fill="#224dae"/>
<rect x="593.8" y="301.3" width="2.65" height="2.65" fill="#244aad"/>
<rect x="596.4" y="301.3" width="2.65" height="2.65" fill="#2845aa"/>
<rect x="599" y="301.3" width="2.65" height="2.65" fill="#2647ab"/>
<rect x="601.6" y="301.3" width="2.65" height="2.65" fill="#412c98"/>
<rect x="604.2" y="301.3" width="2.65" height="2.65" fill="#245cb8"/>
<rect x="606.8" y="301.3" width="2.65" height="2.65" fill="#5bb268"/>
<rect x="609.4" y="301.3" width="2.65" height="2.65" fill="#e02a20"/>
<rect x="612" y="301.3" width="2.65" height="2.65" fill="#e02a20"/>
<rect x="614.6" y="301.3" width="2.65" height="2.65" fill="#5ab270"/>
<rect x="541.8" y="298.7" width="2.65" height="2.65" fill="#422173"/>
<rect x="549.6" y="298.7" width="2.65" height="2.65" fill="#482891"/>
<rect x="552.2" y="298.7" width="2.65" height="2.65" fill="#60b04d"/>
<rect x="554.8" y="298.7" width="2.65" height="2.65" fill="#78bc40"/>
<rect x="557.4" y="298.7" width="2.65" height="2.65" fill="#87c140"/>
<rect x="560" y="298.7" width="2.65" height="2.65" fill="#b9ce40"/>
<rect x="562.6" y="298.7" width="2.65" height="2.65" fill="#a1c840"/>
<rect x="565.2" y="298.7" width="2.65" height="2.65" fill="#2662bc"/>
<rect x="573" y="298.7" width="2.65" height="2.65" fill="#3e2d9b"/>
<rect x="575.6" y="298.7" width="2.65" height="2.65" fill="#472992"/>
<rect x="578.2" y="298.7" width="2.65" height="2.65" fill="#49278f"/>
<rect x="580.8" y="298.7" width="2.65" height="2.65" fill="#452a94"/>
<rect x="583.4" y="298.7" width="2.65" height="2.65" fill="#442a95"/>
<rect x="586" y="298.7" width="2.65" height="2.65" fill="#482688"/>
<rect x="593.8" y="298.7" width="2.65" height="2.65" fill="#45247e"/>
<rect x="596.4" y="298.7" width="2.65" height="2.65" fill="#472992"/>
<rect x="599" y="298.7" width="2.65" height="2.65" fill="#2943a9"/>
<rect x="601.6" y="298.7" width="2.65" height="2.65" fill="#224dae"/>
<rect x="604.2" y="298.7" width="2.65" height="2.65" fill="#235bb7"/>
<rect x="606.8" y="298.7" width="2.65" height="2.65" fill="#50b7af"/>
<rect x="609.4" y="298.7" width="2.65" height="2.65" fill="#6cb640"/>
<rect x="612" y="298.7" width="2.65" height="2.65" fill="#ed7520"/>
<rect x="614.6" y="298.7" width="2.65" height="2.65" fill="#2765be"/>
<rect x="547" y="296.1" width="2.65" height="2.65" fill="#432275"/>
<rect x="552.2" y="296.1" width="2.65" height="2.65" fill="#3796d7"/>
<rect x="554.8" y="296.1" width="2.65" height="2.65" fill="#aecb40"/>
<rect x="557.4" y="296.1" width="2.65" height="2.65" fill="#ee7e20"/>
<rect x="560" y="296.1" width="2.65" height="2.65" fill="#f0aa26"/>
<rect x="562.6" y="296.1" width="2.65" height="2.65" fill="#ef8920"/>
<rect x="565.2" y="296.1" width="2.65" height="2.65" fill="#3e2d9b"/>
<rect x="567.8" y="296.1" width="2.65" height="2.65" fill="#452a94"/>
<rect x="570.4" y="296.1" width="2.65" height="2.65" fill="#482891"/>
<rect x="573" y="296.1" width="2.65" height="2.65" fill="#432b96"/>
<rect x="575.6" y="296.1" width="2.65" height="2.65" fill="#2549ac"/>
<rect x="578.2" y="296.1" width="2.65" height="2.65" fill="#2548ac"/>
<rect x="580.8" y="296.1" width="2.65" height="2.65" fill="#3f2d9a"/>
<rect x="583.4" y="296.1" width="2.65" height="2.65" fill="#45247f"/>
<rect x="586" y="296.1" width="2.65" height="2.65" fill="#422b97"/>
<rect x="593.8" y="296.1" width="2.65" height="2.65" fill="#492890"/>
<rect x="596.4" y="296.1" width="2.65" height="2.65" fill="#2f3da6"/>
<rect x="604.2" y="296.1" width="2.65" height="2.65" fill="#2647ab"/>
<rect x="606.8" y="296.1" width="2.65" height="2.65" fill="#6db640"/>
<rect x="609.4" y="296.1" width="2.65" height="2.65" fill="#60b040"/>
<rect x="612" y="296.1" width="2.65" height="2.65" fill="#60b040"/>
<rect x="614.6" y="296.1" width="2.65" height="2.65" fill="#3e2d9b"/>
<rect x="521" y="293.5" width="2.65" height="2.65" fill="#472992"/>
<rect x="552.2" y="293.5" width="2.65" height="2.65" fill="#303ca6"/>
<rect x="554.8" y="293.5" width="2.65" height="2.65" fill="#ef8520"/>
<rect x="557.4" y="293.5" width="2.65" height="2.65" fill="#e02b20"/>
<rect x="560" y="293.5" width="2.65" height="2.65" fill="#e12d20"/>
<rect x="562.6" y="293.5" width="2.65" height="2.65" fill="#f09a23"/>
<rect x="565.2" y="293.5" width="2.65" height="2.65" fill="#2359b6"/>
<rect x="567.8" y="293.5" width="2.65" height="2.65" fill="#234cae"/>
<rect x="570.4" y="293.5" width="2.65" height="2.65" fill="#2051b0"/>
<rect x="573" y="293.5" width="2.65" height="2.65" fill="#2b41a8"/>
<rect x="575.6" y="293.5" width="2.65" height="2.65" fill="#2663bc"/>
<rect x="578.2" y="293.5" width="2.65" height="2.65" fill="#2647ab"/>
<rect x="580.8" y="293.5" width="2.65" height="2.65" fill="#2663bc"/>
<rect x="583.4" y="293.5" width="2.65" height="2.65" fill="#245db9"/>
<rect x="586" y="293.5" width="2.65" height="2.65" fill="#3d2e9c"/>
<rect x="593.8" y="293.5" width="2.65" height="2.65" fill="#214eaf"/>
<rect x="596.4" y="293.5" width="2.65" height="2.65" fill="#2d3fa7"/>
<rect x="604.2" y="293.5" width="2.65" height="2.65" fill="#2a43a9"/>
<rect x="606.8" y="293.5" width="2.65" height="2.65" fill="#60b044"/>
<rect x="609.4" y="293.5" width="2.65" height="2.65" fill="#68b440"/>
<rect x="612" y="293.5" width="2.65" height="2.65" fill="#73b940"/>
<rect x="614.6" y="293.5" width="2.65" height="2.65" fill="#3a1a50"/>
<rect x="521" y="290.9" width="2.65" height="2.65" fill="#3436a3"/>
<rect x="547" y="290.9" width="2.65" height="2.65" fill="#3239a4"/>
<rect x="552.2" y="290.9" width="2.65" height="2.65" fill="#442278"/>
<rect x="554.8" y="290.9" width="2.65" height="2.65" fill="#7dbe40"/>
<rect x="557.4" y="290.9" width="2.65" height="2.65" fill="#ef8720"/>
<rect x="560" y="290.9" width="2.65" height="2.65" fill="#ef8220"/>
<rect x="562.6" y="290.9" width="2.65" height="2.65" fill="#f0bc2a"/>
<rect x="565.2" y="290.9" width="2.65" height="2.65" fill="#4eb7b4"/>
<rect x="567.8" y="290.9" width="2.65" height="2.65" fill="#2a42a9"/>
<rect x="570.4" y="290.9" width="2.65" height="2.65" fill="#432b96"/>
<rect x="573" y="290.9" width="2.65" height="2.65" fill="#2c41a8"/>
<rect x="575.6" y="290.9" width="2.65" height="2.65" fill="#3e2d9b"/>
<rect x="578.2" y="290.9" width="2.65" height="2.65" fill="#2549ac"/>
<rect x="580.8" y="290.9" width="2.65" height="2.65" fill="#3d2e9c"/>
<rect x="583.4" y="290.9" width="2.65" height="2.65" fill="#2257b5"/>
<rect x="586" y="290.9" width="2.65" height="2.65" fill="#49278e"/>
<rect x="588.6" y="290.9" width="2.65" height="2.65" fill="#2b41a8"/>
<rect x="591.2" y="290.9" width="2.65" height="2.65" fill="#234bad"/>
<rect x="593.8" y="290.9" width="2.65" height="2.65" fill="#244aad"/>
<rect x="596.4" y="290.9" width="2.65" height="2.65" fill="#214eaf"/>
<rect x="599" y="290.9" width="2.65" height="2.65" fill="#2548ac"/>
<rect x="601.6" y="290.9" width="2.65" height="2.65" fill="#2944aa"/>
<rect x="604.2" y="290.9" width="2.65" height="2.65" fill="#2746ab"/>
<rect x="606.8" y="290.9" width="2.65" height="2.65" fill="#62b140"/>
<rect x="609.4" y="290.9" width="2.65" height="2.65" fill="#6db640"/>
<rect x="612" y="290.9" width="2.65" height="2.65" fill="#65b240"/>
<rect x="614.6" y="290.9" width="2.65" height="2.65" fill="#2e7acc"/>
<rect x="617.2" y="290.9" width="2.65" height="2.65" fill="#72b940"/>
<rect x="523.6" y="288.3" width="2.65" height="2.65" fill="#422b97"/>
<rect x="552.2" y="288.3" width="2.65" height="2.65" fill="#3337a3"/>
<rect x="554.8" y="288.3" width="2.65" height="2.65" fill="#9fc740"/>
<rect x="557.4" y="288.3" width="2.65" height="2.65" fill="#bfcf40"/>
<rect x="560" y="288.3" width="2.65" height="2.65" fill="#87c140"/>
<rect x="562.6" y="288.3" width="2.65" height="2.65" fill="#84c140"/>
<rect x="565.2" y="288.3" width="2.65" height="2.65" fill="#77bb40"/>
<rect x="567.8" y="288.3" width="2.65" height="2.65" fill="#224cae"/>
<rect x="573" y="288.3" width="2.65" height="2.65" fill="#442278"/>
<rect x="578.2" y="288.3" width="2.65" height="2.65" fill="#2153b2"/>
<rect x="588.6" y="288.3" width="2.65" height="2.65" fill="#462582"/>
<rect x="591.2" y="288.3" width="2.65" height="2.65" fill="#422b97"/>
<rect x="593.8" y="288.3" width="2.65" height="2.65" fill="#472584"/>
<rect x="596.4" y="288.3" width="2.65" height="2.65" fill="#2052b1"/>
<rect x="599" y="288.3" width="2.65" height="2.65" fill="#2845aa"/>
<rect x="601.6" y="288.3" width="2.65" height="2.65" fill="#2257b5"/>
<rect x="604.2" y="288.3" width="2.65" height="2.65" fill="#2c40a8"/>
<rect x="606.8" y="288.3" width="2.65" height="2.65" fill="#73b940"/>
<rect x="609.4" y="288.3" width="2.65" height="2.65" fill="#74ba40"/>
<rect x="612" y="288.3" width="2.65" height="2.65" fill="#64b240"/>
<rect x="614.6" y="288.3" width="2.65" height="2.65" fill="#73b940"/>
<rect x="617.2" y="288.3" width="2.65" height="2.65" fill="#ef8920"/>
<rect x="523.6" y="285.7" width="2.65" height="2.65" fill="#3d2e9c"/>
<rect x="552.2" y="285.7" width="2.65" height="2.65" fill="#412c98"/>
<rect x="554.8" y="285.7" width="2.65" height="2.65" fill="#5eb056"/>
<rect x="557.4" y="285.7" width="2.65" height="2.65" fill="#7bbd40"/>
<rect x="560" y="285.7" width="2.65" height="2.65" fill="#97c540"/>
<rect x="562.6" y="285.7" width="2.65" height="2.65" fill="#bccf40"/>
<rect x="565.2" y="285.7" width="2.65" height="2.65" fill="#77bb40"/>
<rect x="567.8" y="285.7" width="2.65" height="2.65" fill="#2b41a8"/>
<rect x="578.2" y="285.7" width="2.65" height="2.65" fill="#2e3ea7"/>
<rect x="588.6" y="285.7" width="2.65" height="2.65" fill="#2050b0"/>
<rect x="591.2" y="285.7" width="2.65" height="2.65" fill="#255fba"/>
<rect x="601.6" y="285.7" width="2.65" height="2.65" fill="#2e3ea7"/>
<rect x="604.2" y="285.7" width="2.65" height="2.65" fill="#244aad"/>
<rect x="606.8" y="285.7" width="2.65" height="2.65" fill="#6ab540"/>
<rect x="609.4" y="285.7" width="2.65" height="2.65" fill="#60b043"/>
<rect x="612" y="285.7" width="2.65" height="2.65" fill="#59b374"/>
<rect x="617.2" y="285.7" width="2.65" height="2.65" fill="#48268a"/>
<rect x="523.6" y="283.1" width="2.65" height="2.65" fill="#472687"/>
<rect x="526.2" y="283.1" width="2.65" height="2.65" fill="#41206e"/>
<rect x="554.8" y="283.1" width="2.65" height="2.65" fill="#3535a2"/>
<rect x="557.4" y="283.1" width="2.65" height="2.65" fill="#7ebf40"/>
<rect x="560" y="283.1" width="2.65" height="2.65" fill="#8dc340"/>
<rect x="562.6" y="283.1" width="2.65" height="2.65" fill="#8ac240"/>
<rect x="565.2" y="283.1" width="2.65" height="2.65" fill="#79bc40"/>
<rect x="567.8" y="283.1" width="2.65" height="2.65" fill="#60b040"/>
<rect x="578.2" y="283.1" width="2.65" height="2.65" fill="#2153b2"/>
<rect x="580.8" y="283.1" width="2.65" height="2.65" fill="#3e2d9b"/>
<rect x="583.4" y="283.1" width="2.65" height="2.65" fill="#2050b0"/>
<rect x="586" y="283.1" width="2.65" height="2.65" fill="#422b97"/>
<rect x="588.6" y="283.1" width="2.65" height="2.65" fill="#2155b3"/>
<rect x="591.2" y="283.1" width="2.65" height="2.65" fill="#2560ba"/>
<rect x="604.2" y="283.1" width="2.65" height="2.65" fill="#3aa0da"/>
<rect x="606.8" y="283.1" width="2.65" height="2.65" fill="#6ab540"/>
<rect x="609.4" y="283.1" width="2.65" height="2.65" fill="#63b140"/>
<rect x="612" y="283.1" width="2.65" height="2.65" fill="#3797d7"/>
<rect x="526.2" y="280.5" width="2.65" height="2.65" fill="#45247e"/>
<rect x="557.4" y="280.5" width="2.65" height="2.65" fill="#7abd40"/>
<rect x="560" y="280.5" width="2.65" height="2.65" fill="#84c140"/>
<rect x="562.6" y="280.5" width="2.65" height="2.65" fill="#9fc740"/>
<rect x="565.2" y="280.5" width="2.65" height="2.65" fill="#9dc740"/>
<rect x="567.8" y="280.5" width="2.65" height="2.65" fill="#79bc40"/>
<rect x="570.4" y="280.5" width="2.65" height="2.65" fill="#224dae"/>
<rect x="573" y="280.5" width="2.65" height="2.65" fill="#2647ab"/>
<rect x="575.6" y="280.5" width="2.65" height="2.65" fill="#2944aa"/>
<rect x="578.2" y="280.5" width="2.65" height="2.65" fill="#422b97"/>
<rect x="580.8" y="280.5" width="2.65" height="2.65" fill="#2845aa"/>
<rect x="583.4" y="280.5" width="2.65" height="2.65" fill="#402c99"/>
<rect x="586" y="280.5" width="2.65" height="2.65" fill="#422b97"/>
<rect x="588.6" y="280.5" width="2.65" height="2.65" fill="#245db8"/>
<rect x="591.2" y="280.5" width="2.65" height="2.65" fill="#2662bc"/>
<rect x="593.8" y="280.5" width="2.65" height="2.65" fill="#224cae"/>
<rect x="596.4" y="280.5" width="2.65" height="2.65" fill="#2944aa"/>
<rect x="601.6" y="280.5" width="2.65" height="2.65" fill="#472992"/>
<rect x="604.2" y="280.5" width="2.65" height="2.65" fill="#462482"/>
<rect x="606.8" y="280.5" width="2.65" height="2.65" fill="#6ab540"/>
<rect x="609.4" y="280.5" width="2.65" height="2.65" fill="#60b041"/>
<rect x="612" y="280.5" width="2.65" height="2.65" fill="#462482"/>
<rect x="554.8" y="277.9" width="2.65" height="2.65" fill="#45247f"/>
<rect x="557.4" y="277.9" width="2.65" height="2.65" fill="#2e7bcc"/>
<rect x="560" y="277.9" width="2.65" height="2.65" fill="#adcb40"/>
<rect x="562.6" y="277.9" width="2.65" height="2.65" fill="#77bb40"/>
<rect x="565.2" y="277.9" width="2.65" height="2.65" fill="#7fbf40"/>
<rect x="567.8" y="277.9" width="2.65" height="2.65" fill="#3898d8"/>
<rect x="570.4" y="277.9" width="2.65" height="2.65" fill="#3693d6"/>
<rect x="573" y="277.9" width="2.65" height="2.65" fill="#2663bd"/>
<rect x="575.6" y="277.9" width="2.65" height="2.65" fill="#6eb740"/>
<rect x="578.2" y="277.9" width="2.65" height="2.65" fill="#77bb40"/>
<rect x="580.8" y="277.9" width="2.65" height="2.65" fill="#91c440"/>
<rect x="583.4" y="277.9" width="2.65" height="2.65" fill="#6db640"/>
<rect x="586" y="277.9" width="2.65" height="2.65" fill="#89c240"/>
<rect x="588.6" y="277.9" width="2.65" height="2.65" fill="#76bb40"/>
<rect x="591.2" y="277.9" width="2.65" height="2.65" fill="#7abd40"/>
<rect x="593.8" y="277.9" width="2.65" height="2.65" fill="#3a9fda"/>
<rect x="599" y="277.9" width="2.65" height="2.65" fill="#2e3ea7"/>
<rect x="604.2" y="277.9" width="2.65" height="2.65" fill="#303ca6"/>
<rect x="606.8" y="277.9" width="2.65" height="2.65" fill="#3d2e9c"/>
<rect x="609.4" y="277.9" width="2.65" height="2.65" fill="#2c40a8"/>
<rect x="612" y="277.9" width="2.65" height="2.65" fill="#3437a3"/>
<rect x="552.2" y="275.3" width="2.65" height="2.65" fill="#2d3fa7"/>
<rect x="554.8" y="275.3" width="2.65" height="2.65" fill="#399bd9"/>
<rect x="557.4" y="275.3" width="2.65" height="2.65" fill="#3eaade"/>
<rect x="560" y="275.3" width="2.65" height="2.65" fill="#214eaf"/>
<rect x="562.6" y="275.3" width="2.65" height="2.65" fill="#60b04e"/>
<rect x="565.2" y="275.3" width="2.65" height="2.65" fill="#214eaf"/>
<rect x="567.8" y="275.3" width="2.65" height="2.65" fill="#3da7dd"/>
<rect x="570.4" y="275.3" width="2.65" height="2.65" fill="#4bb5be"/>
<rect x="573" y="275.3" width="2.65" height="2.65" fill="#98c640"/>
<rect x="575.6" y="275.3" width="2.65" height="2.65" fill="#99c640"/>
<rect x="578.2" y="275.3" width="2.65" height="2.65" fill="#7cbe40"/>
<rect x="580.8" y="275.3" width="2.65" height="2.65" fill="#f0c92c"/>
<rect x="583.4" y="275.3" width="2.65" height="2.65" fill="#ced23b"/>
<rect x="586" y="275.3" width="2.65" height="2.65" fill="#6cb640"/>
<rect x="588.6" y="275.3" width="2.65" height="2.65" fill="#9bc640"/>
<rect x="591.2" y="275.3" width="2.65" height="2.65" fill="#8dc340"/>
<rect x="593.8" y="275.3" width="2.65" height="2.65" fill="#60b040"/>
<rect x="596.4" y="275.3" width="2.65" height="2.65" fill="#3634a2"/>
<rect x="601.6" y="275.3" width="2.65" height="2.65" fill="#432276"/>
<rect x="612" y="275.3" width="2.65" height="2.65" fill="#452a94"/>
<rect x="531.4" y="272.7" width="2.65" height="2.65" fill="#3930a0"/>
<rect x="534" y="272.7" width="2.65" height="2.65" fill="#49278d"/>
<rect x="547" y="272.7" width="2.65" height="2.65" fill="#303ca6"/>
<rect x="549.6" y="272.7" width="2.65" height="2.65" fill="#204faf"/>
<rect x="552.2" y="272.7" width="2.65" height="2.65" fill="#204faf"/>
<rect x="554.8" y="272.7" width="2.65" height="2.65" fill="#46b3cd"/>
<rect x="557.4" y="272.7" width="2.65" height="2.65" fill="#40b0dd"/>
<rect x="560" y="272.7" width="2.65" height="2.65" fill="#3c1b58"/>
<rect x="565.2" y="272.7" width="2.65" height="2.65" fill="#49278d"/>
<rect x="567.8" y="272.7" width="2.65" height="2.65" fill="#462993"/>
<rect x="570.4" y="272.7" width="2.65" height="2.65" fill="#401f6a"/>
<rect x="573" y="272.7" width="2.65" height="2.65" fill="#89c240"/>
<rect x="575.6" y="272.7" width="2.65" height="2.65" fill="#86c140"/>
<rect x="578.2" y="272.7" width="2.65" height="2.65" fill="#77bb40"/>
<rect x="580.8" y="272.7" width="2.65" height="2.65" fill="#aecb40"/>
<rect x="583.4" y="272.7" width="2.65" height="2.65" fill="#f09822"/>
<rect x="586" y="272.7" width="2.65" height="2.65" fill="#89c240"/>
<rect x="588.6" y="272.7" width="2.65" height="2.65" fill="#75ba40"/>
<rect x="591.2" y="272.7" width="2.65" height="2.65" fill="#75ba40"/>
<rect x="593.8" y="272.7" width="2.65" height="2.65" fill="#3c2e9d"/>
<rect x="599" y="272.7" width="2.65" height="2.65" fill="#3337a3"/>
<rect x="601.6" y="272.7" width="2.65" height="2.65" fill="#402c99"/>
<rect x="604.2" y="272.7" width="2.65" height="2.65" fill="#432276"/>
<rect x="609.4" y="272.7" width="2.65" height="2.65" fill="#492890"/>
<rect x="531.4" y="270.1" width="2.65" height="2.65" fill="#472687"/>
<rect x="534" y="270.1" width="2.65" height="2.65" fill="#313ba5"/>
<rect x="544.4" y="270.1" width="2.65" height="2.65" fill="#30143e"/>
<rect x="547" y="270.1" width="2.65" height="2.65" fill="#2663bd"/>
<rect x="549.6" y="270.1" width="2.65" height="2.65" fill="#2663bd"/>
<rect x="552.2" y="270.1" width="2.65" height="2.65" fill="#2663bd"/>
<rect x="554.8" y="270.1" width="2.65" height="2.65" fill="#2663bd"/>
<rect x="557.4" y="270.1" width="2.65" height="2.65" fill="#2663bd"/>
<rect x="560" y="270.1" width="2.65" height="2.65" fill="#204faf"/>
<rect x="567.8" y="270.1" width="2.65" height="2.65" fill="#45247e"/>
<rect x="570.4" y="270.1" width="2.65" height="2.65" fill="#3e2d9b"/>
<rect x="573" y="270.1" width="2.65" height="2.65" fill="#2663bd"/>
<rect x="575.6" y="270.1" width="2.65" height="2.65" fill="#60b049"/>
<rect x="578.2" y="270.1" width="2.65" height="2.65" fill="#5db161"/>
<rect x="580.8" y="270.1" width="2.65" height="2.65" fill="#5bb26a"/>
<rect x="583.4" y="270.1" width="2.65" height="2.65" fill="#348ed4"/>
<rect x="586" y="270.1" width="2.65" height="2.65" fill="#3338a4"/>
<rect x="588.6" y="270.1" width="2.65" height="2.65" fill="#3a1a52"/>
<rect x="593.8" y="270.1" width="2.65" height="2.65" fill="#3c2e9d"/>
<rect x="599" y="270.1" width="2.65" height="2.65" fill="#472687"/>
<rect x="606.8" y="270.1" width="2.65" height="2.65" fill="#3732a1"/>
<rect x="609.4" y="270.1" width="2.65" height="2.65" fill="#45247e"/>
<rect x="612" y="270.1" width="2.65" height="2.65" fill="#49278c"/>
<rect x="536.6" y="267.5" width="2.65" height="2.65" fill="#41206f"/>
<rect x="547" y="267.5" width="2.65" height="2.65" fill="#303ca6"/>
<rect x="549.6" y="267.5" width="2.65" height="2.65" fill="#204faf"/>
<rect x="552.2" y="267.5" width="2.65" height="2.65" fill="#204faf"/>
<rect x="554.8" y="267.5" width="2.65" height="2.65" fill="#204faf"/>
<rect x="557.4" y="267.5" width="2.65" height="2.65" fill="#204faf"/>
<rect x="560" y="267.5" width="2.65" height="2.65" fill="#3c1b58"/>
<rect x="573" y="267.5" width="2.65" height="2.65" fill="#462993"/>
<rect x="578.2" y="267.5" width="2.65" height="2.65" fill="#2e3da6"/>
<rect x="586" y="267.5" width="2.65" height="2.65" fill="#402c99"/>
<rect x="591.2" y="267.5" width="2.65" height="2.65" fill="#472584"/>
<rect x="531.4" y="264.9" width="2.65" height="2.65" fill="#49278f"/>
<rect x="536.6" y="264.9" width="2.65" height="2.65" fill="#3b2f9e"/>
<rect x="539.2" y="264.9" width="2.65" height="2.65" fill="#442379"/>
<rect x="539.2" y="262.3" width="2.65" height="2.65" fill="#2f3ca6"/>
<rect x="557.4" y="262.3" width="2.65" height="2.65" fill="#3a2f9f"/>
<rect x="554.8" y="259.7" width="2.65" height="2.65" fill="#2e3ea7"/>
<rect x="557.4" y="259.7" width="2.65" height="2.65" fill="#2f3da6"/>
<rect x="554.8" y="257.1" width="2.65" height="2.65" fill="#303ca6"/>
<rect x="557.4" y="257.1" width="2.65" height="2.65" fill="#3e2d9b"/>
<rect x="554.8" y="254.5" width="2.65" height="2.65" fill="#412c98"/>
<rect x="578.2" y="254.5" width="2.65" height="2.65" fill="#472992"/>
<rect x="552.2" y="251.9" width="2.65" height="2.65" fill="#3536a3"/>
<rect x="567.8" y="251.9" width="2.65" height="2.65" fill="#3a2f9f"/>
<rect x="552.2" y="249.3" width="2.65" height="2.65" fill="#3e2d9b"/>
<rect x="567.8" y="249.3" width="2.65" height="2.65" fill="#492890"/>
<rect x="544.4" y="244.1" width="2.65" height="2.65" fill="#432b96"/>
<rect x="554.8" y="244.1" width="2.65" height="2.65" fill="#452a94"/>
<rect x="560" y="241.5" width="2.65" height="2.65" fill="#492890"/>
<rect x="614.6" y="236.3" width="2.65" height="2.65" fill="#40b0e0"/>
<rect x="614.6" y="238.9" width="2.65" height="2.65" fill="#e0d535"/>
<rect x="612" y="238.9" width="2.65" height="2.65" fill="#3080d0"/>
<rect x="614.6" y="241.5" width="2.65" height="2.65" fill="#e83a22"/>
<rect x="612" y="241.5" width="2.65" height="2.65" fill="#ee7820"/>
<rect x="614.6" y="244.1" width="2.65" height="2.65" fill="#2663bd"/>
<rect x="612" y="244.1" width="2.65" height="2.65" fill="#3634a2"/>
<rect x="614.6" y="259.7" width="2.65" height="2.65" fill="#3ba2db"/>
<rect x="614.6" y="270.1" width="2.65" height="2.65" fill="#40b0e0"/>
<rect x="614.6" y="285.7" width="2.65" height="2.65" fill="#60b046"/>
<rect x="614.6" y="288.3" width="2.65" height="2.65" fill="#ef8120"/>
<rect x="614.6" y="296.1" width="2.65" height="2.65" fill="#2663bd"/>
<rect x="617.2" y="301.3" width="2.65" height="2.65" fill="#f09722"/>
<rect x="617.2" y="303.9" width="2.65" height="2.65" fill="#5ab270"/>
<rect x="618.6" y="326" width="5.3" height="7.6" fill="#e8281e"/>
<rect x="620" y="333.6" width="3.9" height="2.4" fill="#a8c840"/>
<rect x="606.8" y="361.1" width="2.65" height="2.65" fill="#2663bd"/>
<rect x="609.4" y="361.1" width="2.65" height="2.65" fill="#2663bd"/>
<rect x="612" y="361.1" width="2.65" height="2.65" fill="#3080d0"/>
<rect x="614.6" y="363.7" width="2.65" height="2.65" fill="#2c74c8"/>
<rect x="617.2" y="363.7" width="2.65" height="2.65" fill="#2663bd"/>
<rect x="619.8" y="358.5" width="2.65" height="2.65" fill="#4cb6bc"/>
<rect x="601.6" y="355.9" width="2.65" height="2.65" fill="#442278"/>
<rect x="617.2" y="355.9" width="2.65" height="2.65" fill="#2663bd"/>
<rect x="614.6" y="358.5" width="2.65" height="2.65" fill="#2258b5"/>
<rect x="521" y="236.3" width="2.65" height="2.65" fill="#40b0e0"/>
<rect x="521" y="238.9" width="2.65" height="2.65" fill="#3694d6"/>
<rect x="521" y="241.5" width="2.65" height="2.65" fill="#2663bd"/>
<rect x="523.6" y="236.3" width="2.65" height="2.65" fill="#2549ac"/>
<rect x="521" y="342.9" width="2.65" height="2.65" fill="#2549ac"/>
<rect x="521" y="345.5" width="2.65" height="2.65" fill="#3634a2"/>
<rect x="523.6" y="340.3" width="2.65" height="2.65" fill="#3d2e9c"/>
<rect x="521.6" y="360.5" width="5.2" height="5.2" fill="#fff"/>
</g>
<rect x="521" y="236.3" width="130" height="130" fill="none" stroke="#2a2a2a" stroke-width="1.1"/>
<path d="M547 366.3v-3.0M547 236.3v3.0M573 366.3v-3.0M573 236.3v3.0M599 366.3v-3.0M599 236.3v3.0M625 366.3v-3.0M625 236.3v3.0" stroke="#2a2a2a" stroke-width="1" fill="none"/>
<path d="M521 340.3h3.0M651 340.3h-3.0M521 314.3h3.0M651 314.3h-3.0M521 288.3h3.0M651 288.3h-3.0M521 262.3h3.0M651 262.3h-3.0" stroke="#2a2a2a" stroke-width="1" fill="none"/>
<text x="521" y="378.5" font-size="11" text-anchor="middle" fill="#1a1a1a" >0</text>
<text x="547" y="378.5" font-size="11" text-anchor="middle" fill="#1a1a1a" >0.2</text>
<text x="573" y="378.5" font-size="11" text-anchor="middle" fill="#1a1a1a" >0.4</text>
<text x="599" y="378.5" font-size="11" text-anchor="middle" fill="#1a1a1a" >0.6</text>
<text x="625" y="378.5" font-size="11" text-anchor="middle" fill="#1a1a1a" >0.8</text>
<text x="651" y="378.5" font-size="11" text-anchor="middle" fill="#1a1a1a" >1</text>
<text x="516.5" y="370.1" font-size="11" text-anchor="end" fill="#1a1a1a" >0</text>
<text x="516.5" y="344.1" font-size="11" text-anchor="end" fill="#1a1a1a" >0.2</text>
<text x="516.5" y="318.1" font-size="11" text-anchor="end" fill="#1a1a1a" >0.4</text>
<text x="516.5" y="292.1" font-size="11" text-anchor="end" fill="#1a1a1a" >0.6</text>
<text x="516.5" y="266.1" font-size="11" text-anchor="end" fill="#1a1a1a" >0.8</text>
<text x="516.5" y="240.1" font-size="11" text-anchor="end" fill="#1a1a1a" >1</text>
<text x="588" y="395.5" font-size="11" text-anchor="middle" fill="#1a1a1a" ><tspan font-style="italic">H</tspan> (r.l.u.)</text>
<text x="495.5" y="300.5" font-size="11" text-anchor="middle" fill="#1a1a1a" transform="rotate(-90 495.5 300.5)" ><tspan font-style="italic">K</tspan> (r.l.u.)</text>
<defs><linearGradient id="cb" x1="0" y1="1" x2="0" y2="0"><stop offset="0.0" stop-color="#000000"/><stop offset="0.03" stop-color="#200a20"/><stop offset="0.085" stop-color="#3a1a50"/><stop offset="0.14" stop-color="#4a2890"/><stop offset="0.19" stop-color="#3a30a0"/><stop offset="0.265" stop-color="#2050b0"/><stop offset="0.35" stop-color="#3080d0"/><stop offset="0.42" stop-color="#40b0e0"/><stop offset="0.46" stop-color="#50b8b0"/><stop offset="0.52" stop-color="#60b050"/><stop offset="0.57" stop-color="#60b040"/><stop offset="0.68" stop-color="#80c040"/><stop offset="0.74" stop-color="#c0d040"/><stop offset="0.8" stop-color="#f0d830"/><stop offset="0.86" stop-color="#f08a20"/><stop offset="0.95" stop-color="#e83a22"/><stop offset="1.0" stop-color="#e02a20"/></linearGradient></defs>
<rect x="658.6" y="262.6" width="9" height="77.8" fill="url(#cb)" stroke="#111" stroke-width="0.9"/>
<text x="663.5" y="260.5" font-size="11" text-anchor="middle" fill="#1a1a1a" >0.3</text>
<text x="663.2" y="351.5" font-size="11" text-anchor="middle" fill="#1a1a1a" >0</text>
<text x="480.7" y="437.7" font-size="18" text-anchor="start" fill="#000" font-weight="bold" textLength="4.75" lengthAdjust="spacingAndGlyphs">i</text>
<defs><clipPath id="ci"><rect x="526.5" y="445.4" width="134" height="133.8"/></clipPath></defs>
<g clip-path="url(#ci)" fill="none"><circle cx="526.5" cy="512.3" r="16.6" stroke="#2b3590" stroke-width="1.4"/><circle cx="526.5" cy="512.3" r="13.9" stroke="#e4572e" stroke-width="1.4"/><circle cx="660.5" cy="512.3" r="16.6" stroke="#2b3590" stroke-width="1.4"/><circle cx="660.5" cy="512.3" r="13.9" stroke="#e4572e" stroke-width="1.4"/><circle cx="593.5" cy="445.4" r="16.6" stroke="#2b3590" stroke-width="1.4"/><circle cx="593.5" cy="445.4" r="13.9" stroke="#e4572e" stroke-width="1.4"/><circle cx="593.5" cy="579.2" r="16.6" stroke="#2b3590" stroke-width="1.4"/><circle cx="593.5" cy="579.2" r="13.9" stroke="#e4572e" stroke-width="1.4"/></g>
<rect x="526.5" y="445.4" width="134" height="133.8" fill="none" stroke="#2a2a2a" stroke-width="1.1"/>
<path d="M560 579.2v-3.0M560 445.4v3.0M593.5 579.2v-3.0M593.5 445.4v3.0M627 579.2v-3.0M627 445.4v3.0" stroke="#2a2a2a" stroke-width="1" fill="none"/>
<path d="M543.25 579.2v-2.0M543.25 445.4v2.0M576.75 579.2v-2.0M576.75 445.4v2.0M610.25 579.2v-2.0M610.25 445.4v2.0M643.75 579.2v-2.0M643.75 445.4v2.0" stroke="#2a2a2a" stroke-width="1" fill="none"/>
<path d="M526.5 545.75h3.0M660.5 545.75h-3.0M526.5 512.3h3.0M660.5 512.3h-3.0M526.5 478.85h3.0M660.5 478.85h-3.0" stroke="#2a2a2a" stroke-width="1" fill="none"/>
<path d="M526.5 562.48h2.0M660.5 562.48h-2.0M526.5 529.02h2.0M660.5 529.02h-2.0M526.5 495.57h2.0M660.5 495.57h-2.0M526.5 462.12h2.0M660.5 462.12h-2.0" stroke="#2a2a2a" stroke-width="1" fill="none"/>
<text x="526.5" y="590.5" font-size="11" text-anchor="middle" fill="#1a1a1a" >−0.5</text>
<text x="560" y="590.5" font-size="11" text-anchor="middle" fill="#1a1a1a" >−0.25</text>
<text x="593.5" y="590.5" font-size="11" text-anchor="middle" fill="#1a1a1a" >0</text>
<text x="627" y="590.5" font-size="11" text-anchor="middle" fill="#1a1a1a" >0.25</text>
<text x="660.5" y="590.5" font-size="11" text-anchor="middle" fill="#1a1a1a" >0.5</text>
<text x="522" y="583" font-size="11" text-anchor="end" fill="#1a1a1a" >−0.5</text>
<text x="522" y="549.55" font-size="11" text-anchor="end" fill="#1a1a1a" >−0.25</text>
<text x="522" y="516.1" font-size="11" text-anchor="end" fill="#1a1a1a" >0</text>
<text x="522" y="482.65" font-size="11" text-anchor="end" fill="#1a1a1a" >0.25</text>
<text x="522" y="449.2" font-size="11" text-anchor="end" fill="#1a1a1a" >0.5</text>
<text x="593.5" y="606" font-size="11" text-anchor="middle" fill="#1a1a1a" ><tspan font-style="italic">H</tspan> (r.l.u.)</text>
<text x="497" y="511.5" font-size="11" text-anchor="middle" fill="#1a1a1a" transform="rotate(-90 497 511.5)" ><tspan font-style="italic">K</tspan> (r.l.u.)</text>
<path d="M526.5 495.6L584.5 465.6" stroke="#2b3590" stroke-width="1.5"/>
<path d="M591.8 462L580 464.6L583.2 473Z" fill="#2b3590"/>
<path d="M526.5 497.6L584 464.2" stroke="#e4572e" stroke-width="1.5"/>
<path d="M590.8 460.3L579.3 462.2L584.8 468.3Z" fill="#e4572e"/>
<text x="529" y="460.2" font-size="10.9" text-anchor="start" fill="#e4643f" >(0.5, 0.31, 0)</text>
<text x="569" y="484.5" font-size="10.9" text-anchor="start" fill="#4a55a5" >(0.5, 0.25, 0)</text>
<circle cx="593.3" cy="512.6" r="1.6" fill="#8f8f8f"/>
<text x="596.5" y="516.5" font-size="10.5" text-anchor="start" fill="#8a8a8a" >Γ</text></svg></body></html>
